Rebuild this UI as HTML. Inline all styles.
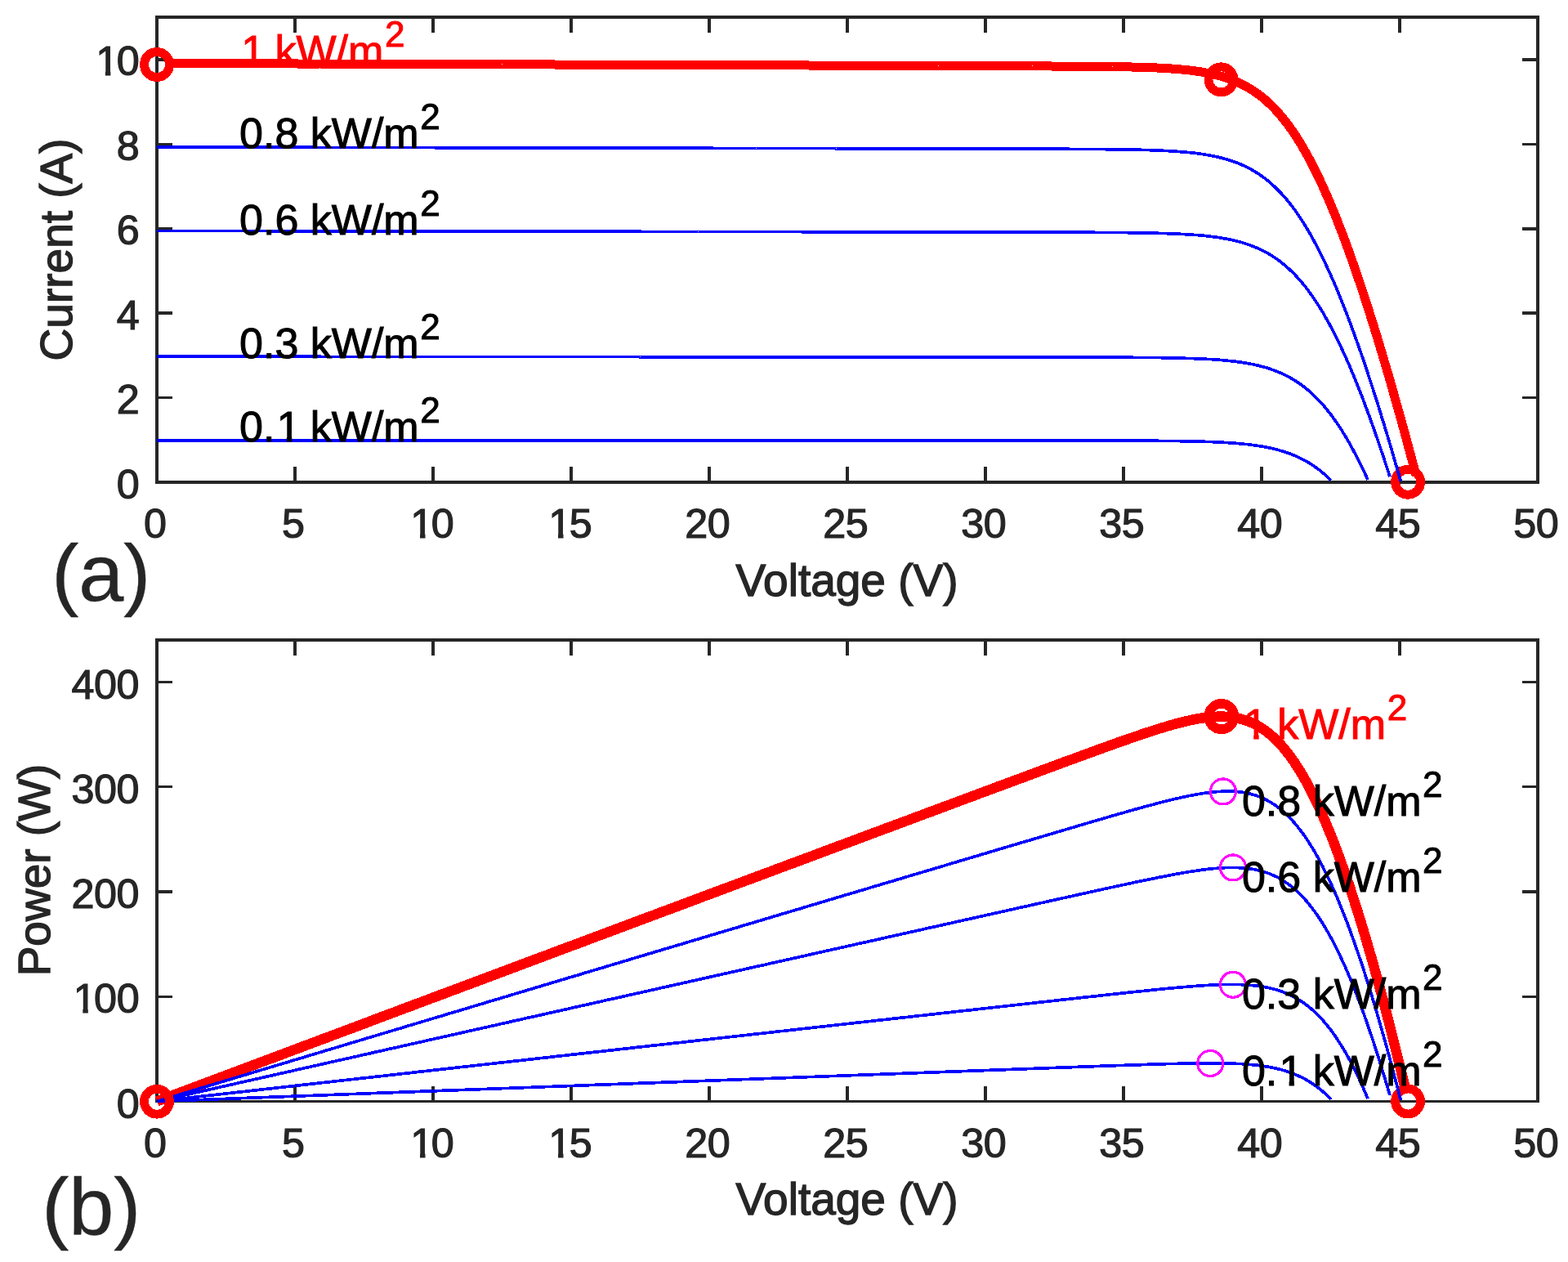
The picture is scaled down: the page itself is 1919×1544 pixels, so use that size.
<!DOCTYPE html>
<html lang="en">
<head>
<meta charset="utf-8">
<title>PV module I-V and P-V characteristics</title>
<style>html,body{margin:0;padding:0;background:#fff;}body{width:1919px;height:1544px;overflow:hidden;}svg{display:block;}</style>
</head>
<body>
<svg width="1919" height="1544" viewBox="0 0 1919 1544" font-family="'Liberation Sans', Arial, Helvetica, sans-serif">
<rect width="1919" height="1544" fill="#fff"/>
<g id="plot-a">
<g stroke="#262626" stroke-width="4.0" fill="none" stroke-linecap="butt" shape-rendering="crispEdges">
<rect x="192.0" y="21.0" width="1690.0" height="569.0"/>
<path d="M361.0,590.0 v-19.0 M361.0,21.0 v19.0 M530.0,590.0 v-19.0 M530.0,21.0 v19.0 M699.0,590.0 v-19.0 M699.0,21.0 v19.0 M868.0,590.0 v-19.0 M868.0,21.0 v19.0 M1037.0,590.0 v-19.0 M1037.0,21.0 v19.0 M1206.0,590.0 v-19.0 M1206.0,21.0 v19.0 M1375.0,590.0 v-19.0 M1375.0,21.0 v19.0 M1544.0,590.0 v-19.0 M1544.0,21.0 v19.0 M1713.0,590.0 v-19.0 M1713.0,21.0 v19.0 "/>
<path d="M192.0,73 h19.0 M1882.0,73 h-19.0" stroke-width="4"/>
<path d="M192.0,176.5 h19.0 M1882.0,176.5 h-19.0" stroke-width="3"/>
<path d="M192.0,280 h19.0 M1882.0,280 h-19.0" stroke-width="4"/>
<path d="M192.0,383 h19.0 M1882.0,383 h-19.0" stroke-width="4"/>
<path d="M192.0,486.5 h19.0 M1882.0,486.5 h-19.0" stroke-width="3"/>
</g>
<path d="M208.9,77.5 L212.3,77.5 L215.7,77.5 L219.0,77.5 L222.4,77.5 L225.8,77.5 L229.2,77.5 L232.6,77.5 L235.9,77.5 L239.3,77.6 L242.7,77.6 L246.1,77.6 L249.5,77.6 L252.8,77.6 L256.2,77.6 L259.6,77.6 L263.0,77.6 L266.4,77.6 L269.7,77.7 L273.1,77.7 L276.5,77.7 L279.9,77.7 L283.3,77.7 L286.6,77.7 L290.0,77.7 L293.4,77.7 L296.8,77.7 L300.2,77.8 L303.5,77.8 L306.9,77.8 L310.3,77.8 L313.7,77.8 L317.1,77.8 L320.4,77.8 L323.8,77.8 L327.2,77.8 L330.6,77.8 L334.0,77.9 L337.3,77.9 L340.7,77.9 L344.1,77.9 L347.5,77.9 L350.9,77.9 L354.2,77.9 L357.6,77.9 L361.0,77.9 L364.4,78.0 L367.8,78.0 L371.1,78.0 L374.5,78.0 L377.9,78.0 L381.3,78.0 L384.7,78.0 L388.0,78.0 L391.4,78.0 L394.8,78.1 L398.2,78.1 L401.6,78.1 L404.9,78.1 L408.3,78.1 L411.7,78.1 L415.1,78.1 L418.5,78.1 L421.8,78.1 L425.2,78.1 L428.6,78.2 L432.0,78.2 L435.4,78.2 L438.7,78.2 L442.1,78.2 L445.5,78.2 L448.9,78.2 L452.3,78.2 L455.6,78.2 L459.0,78.3 L462.4,78.3 L465.8,78.3 L469.2,78.3 L472.5,78.3 L475.9,78.3 L479.3,78.3 L482.7,78.3 L486.1,78.3 L489.4,78.4 L492.8,78.4 L496.2,78.4 L499.6,78.4 L503.0,78.4 L506.3,78.4 L509.7,78.4 L513.1,78.4 L516.5,78.4 L519.9,78.5 L523.2,78.5 L526.6,78.5 L530.0,78.5 L533.4,78.5 L536.8,78.5 L540.1,78.5 L543.5,78.5 L546.9,78.5 L550.3,78.5 L553.7,78.6 L557.0,78.6 L560.4,78.6 L563.8,78.6 L567.2,78.6 L570.6,78.6 L573.9,78.6 L577.3,78.6 L580.7,78.6 L584.1,78.7 L587.5,78.7 L590.8,78.7 L594.2,78.7 L597.6,78.7 L601.0,78.7 L604.4,78.7 L607.7,78.7 L611.1,78.7 L614.5,78.8 L617.9,78.8 L621.3,78.8 L624.6,78.8 L628.0,78.8 L631.4,78.8 L634.8,78.8 L638.2,78.8 L641.5,78.8 L644.9,78.9 L648.3,78.9 L651.7,78.9 L655.1,78.9 L658.4,78.9 L661.8,78.9 L665.2,78.9 L668.6,78.9 L672.0,78.9 L675.3,78.9 L678.7,79.0 L682.1,79.0 L685.5,79.0 L688.9,79.0 L692.2,79.0 L695.6,79.0 L699.0,79.0 L702.4,79.0 L705.8,79.0 L709.1,79.1 L712.5,79.1 L715.9,79.1 L719.3,79.1 L722.7,79.1 L726.0,79.1 L729.4,79.1 L732.8,79.1 L736.2,79.1 L739.6,79.2 L742.9,79.2 L746.3,79.2 L749.7,79.2 L753.1,79.2 L756.5,79.2 L759.8,79.2 L763.2,79.2 L766.6,79.2 L770.0,79.2 L773.4,79.3 L776.7,79.3 L780.1,79.3 L783.5,79.3 L786.9,79.3 L790.3,79.3 L793.6,79.3 L797.0,79.3 L800.4,79.3 L803.8,79.4 L807.2,79.4 L810.5,79.4 L813.9,79.4 L817.3,79.4 L820.7,79.4 L824.1,79.4 L827.4,79.4 L830.8,79.4 L834.2,79.5 L837.6,79.5 L841.0,79.5 L844.3,79.5 L847.7,79.5 L851.1,79.5 L854.5,79.5 L857.9,79.5 L861.2,79.5 L864.6,79.6 L868.0,79.6 L871.4,79.6 L874.8,79.6 L878.1,79.6 L881.5,79.6 L884.9,79.6 L888.3,79.6 L891.7,79.6 L895.0,79.6 L898.4,79.7 L901.8,79.7 L905.2,79.7 L908.6,79.7 L911.9,79.7 L915.3,79.7 L918.7,79.7 L922.1,79.7 L925.5,79.7 L928.8,79.8 L932.2,79.8 L935.6,79.8 L939.0,79.8 L942.4,79.8 L945.7,79.8 L949.1,79.8 L952.5,79.8 L955.9,79.8 L959.3,79.9 L962.6,79.9 L966.0,79.9 L969.4,79.9 L972.8,79.9 L976.2,79.9 L979.5,79.9 L982.9,79.9 L986.3,79.9 L989.7,80.0 L993.1,80.0 L996.4,80.0 L999.8,80.0 L1003.2,80.0 L1006.6,80.0 L1010.0,80.0 L1013.3,80.0 L1016.7,80.0 L1020.1,80.0 L1023.5,80.1 L1026.9,80.1 L1030.2,80.1 L1033.6,80.1 L1037.0,80.1 L1040.4,80.1 L1043.8,80.1 L1047.1,80.1 L1050.5,80.1 L1053.9,80.2 L1057.3,80.2 L1060.7,80.2 L1064.0,80.2 L1067.4,80.2 L1070.8,80.2 L1074.2,80.2 L1077.6,80.2 L1080.9,80.2 L1084.3,80.3 L1087.7,80.3 L1091.1,80.3 L1094.5,80.3 L1097.8,80.3 L1101.2,80.3 L1104.6,80.3 L1108.0,80.3 L1111.4,80.3 L1114.7,80.4 L1118.1,80.4 L1121.5,80.4 L1124.9,80.4 L1128.3,80.4 L1131.6,80.4 L1135.0,80.4 L1138.4,80.4 L1141.8,80.4 L1145.2,80.4 L1148.5,80.5 L1151.9,80.5 L1155.3,80.5 L1158.7,80.5 L1162.1,80.5 L1165.4,80.5 L1168.8,80.5 L1172.2,80.5 L1175.6,80.5 L1179.0,80.6 L1182.3,80.6 L1185.7,80.6 L1189.1,80.6 L1192.5,80.6 L1195.9,80.6 L1199.2,80.6 L1202.6,80.6 L1206.0,80.6 L1209.4,80.7 L1212.8,80.7 L1216.1,80.7 L1219.5,80.7 L1222.9,80.7 L1226.3,80.7 L1229.7,80.7 L1233.0,80.7 L1236.4,80.8 L1239.8,80.8 L1243.2,80.8 L1246.6,80.8 L1249.9,80.8 L1253.3,80.8 L1256.7,80.8 L1260.1,80.8 L1263.5,80.9 L1266.8,80.9 L1270.2,80.9 L1273.6,80.9 L1277.0,80.9 L1280.4,80.9 L1283.7,80.9 L1287.1,81.0 L1290.5,81.0 L1293.9,81.0 L1297.3,81.0 L1300.6,81.0 L1304.0,81.1 L1307.4,81.1 L1310.8,81.1 L1314.2,81.1 L1317.5,81.1 L1320.9,81.2 L1324.3,81.2 L1327.7,81.2 L1331.1,81.2 L1334.4,81.3 L1337.8,81.3 L1341.2,81.3 L1344.6,81.4 L1348.0,81.4 L1351.3,81.4 L1354.7,81.5 L1358.1,81.5 L1361.5,81.6 L1364.9,81.6 L1368.2,81.7 L1371.6,81.7 L1375.0,81.8 L1378.4,81.8 L1381.8,81.9 L1385.1,82.0 L1388.5,82.1 L1391.9,82.2 L1395.3,82.2 L1398.7,82.3 L1402.0,82.5 L1405.4,82.6 L1408.8,82.7 L1412.2,82.8 L1415.6,83.0 L1418.9,83.1 L1422.3,83.3 L1425.7,83.5 L1429.1,83.7 L1432.5,83.9 L1435.8,84.2 L1439.2,84.4 L1442.6,84.7 L1446.0,85.0 L1449.4,85.3 L1452.7,85.7 L1456.1,86.0 L1459.5,86.5 L1462.9,86.9 L1466.3,87.4 L1469.6,87.9 L1473.0,88.5 L1476.4,89.1 L1479.8,89.8 L1483.2,90.5 L1486.5,91.3 L1489.9,92.1 L1493.3,93.0 L1496.7,94.0 L1500.1,95.0 L1503.4,96.2 L1506.8,97.4 L1510.2,98.7 L1513.6,100.1 L1517.0,101.6 L1520.3,103.3 L1523.7,105.0 L1527.1,106.9 L1530.5,108.9 L1533.9,111.1 L1537.2,113.4 L1540.6,115.8 L1544.0,118.4 L1547.4,121.2 L1550.8,124.1 L1554.1,127.3 L1557.5,130.6 L1560.9,134.1 L1564.3,137.8 L1567.7,141.7 L1571.0,145.8 L1574.4,150.1 L1577.8,154.7 L1581.2,159.4 L1584.6,164.4 L1587.9,169.6 L1591.3,175.1 L1594.7,180.8 L1598.1,186.7 L1601.5,192.8 L1604.8,199.1 L1608.2,205.7 L1611.6,212.6 L1615.0,219.6 L1618.4,226.9 L1621.7,234.4 L1625.1,242.1 L1628.5,250.0 L1631.9,258.2 L1635.3,266.5 L1638.6,275.1 L1642.0,283.8 L1645.4,292.8 L1648.8,302.0 L1652.2,311.3 L1655.5,320.9 L1658.9,330.6 L1662.3,340.5 L1665.7,350.6 L1669.1,360.8 L1672.4,371.2 L1675.8,381.8 L1679.2,392.5 L1682.6,403.4 L1686.0,414.4 L1689.3,425.6 L1692.7,436.9 L1696.1,448.3 L1699.5,459.9 L1702.9,471.6 L1706.2,483.5 L1709.6,495.4 L1713.0,507.5 L1716.4,519.7 L1719.8,532.0 L1723.1,544.4 L1726.5,556.9 L1729.9,569.5 L1733.3,582.2" fill="none" stroke="#ff0000" stroke-width="11.0" stroke-linejoin="round" shape-rendering="crispEdges"/>
<circle cx="192.0" cy="79.0" r="15.5" fill="none" stroke="#ff0000" stroke-width="10.8" shape-rendering="crispEdges"/>
<circle cx="1494.5" cy="97.3" r="15.5" fill="none" stroke="#ff0000" stroke-width="10.8" shape-rendering="crispEdges"/>
<circle cx="1723.1" cy="589.8" r="15.5" fill="none" stroke="#ff0000" stroke-width="10.8" shape-rendering="crispEdges"/>
<path d="M192.0,180.0 L195.4,180.0 L198.8,180.0 L202.1,180.0 L205.5,180.0 L208.9,180.0 L212.3,180.0 L215.7,180.0 L219.0,180.0 L222.4,180.0 L225.8,180.0 L229.2,180.0 L232.6,180.0 L235.9,180.0 L239.3,180.1 L242.7,180.1 L246.1,180.1 L249.5,180.1 L252.8,180.1 L256.2,180.1 L259.6,180.1 L263.0,180.1 L266.4,180.1 L269.7,180.1 L273.1,180.1 L276.5,180.1 L279.9,180.1 L283.3,180.1 L286.6,180.1 L290.0,180.2 L293.4,180.2 L296.8,180.2 L300.2,180.2 L303.5,180.2 L306.9,180.2 L310.3,180.2 L313.7,180.2 L317.1,180.2 L320.4,180.2 L323.8,180.2 L327.2,180.2 L330.6,180.2 L334.0,180.2 L337.3,180.3 L340.7,180.3 L344.1,180.3 L347.5,180.3 L350.9,180.3 L354.2,180.3 L357.6,180.3 L361.0,180.3 L364.4,180.3 L367.8,180.3 L371.1,180.3 L374.5,180.3 L377.9,180.3 L381.3,180.3 L384.7,180.3 L388.0,180.4 L391.4,180.4 L394.8,180.4 L398.2,180.4 L401.6,180.4 L404.9,180.4 L408.3,180.4 L411.7,180.4 L415.1,180.4 L418.5,180.4 L421.8,180.4 L425.2,180.4 L428.6,180.4 L432.0,180.4 L435.4,180.5 L438.7,180.5 L442.1,180.5 L445.5,180.5 L448.9,180.5 L452.3,180.5 L455.6,180.5 L459.0,180.5 L462.4,180.5 L465.8,180.5 L469.2,180.5 L472.5,180.5 L475.9,180.5 L479.3,180.5 L482.7,180.6 L486.1,180.6 L489.4,180.6 L492.8,180.6 L496.2,180.6 L499.6,180.6 L503.0,180.6 L506.3,180.6 L509.7,180.6 L513.1,180.6 L516.5,180.6 L519.9,180.6 L523.2,180.6 L526.6,180.6 L530.0,180.6 L533.4,180.7 L536.8,180.7 L540.1,180.7 L543.5,180.7 L546.9,180.7 L550.3,180.7 L553.7,180.7 L557.0,180.7 L560.4,180.7 L563.8,180.7 L567.2,180.7 L570.6,180.7 L573.9,180.7 L577.3,180.7 L580.7,180.8 L584.1,180.8 L587.5,180.8 L590.8,180.8 L594.2,180.8 L597.6,180.8 L601.0,180.8 L604.4,180.8 L607.7,180.8 L611.1,180.8 L614.5,180.8 L617.9,180.8 L621.3,180.8 L624.6,180.8 L628.0,180.8 L631.4,180.9 L634.8,180.9 L638.2,180.9 L641.5,180.9 L644.9,180.9 L648.3,180.9 L651.7,180.9 L655.1,180.9 L658.4,180.9 L661.8,180.9 L665.2,180.9 L668.6,180.9 L672.0,180.9 L675.3,180.9 L678.7,181.0 L682.1,181.0 L685.5,181.0 L688.9,181.0 L692.2,181.0 L695.6,181.0 L699.0,181.0 L702.4,181.0 L705.8,181.0 L709.1,181.0 L712.5,181.0 L715.9,181.0 L719.3,181.0 L722.7,181.0 L726.0,181.0 L729.4,181.1 L732.8,181.1 L736.2,181.1 L739.6,181.1 L742.9,181.1 L746.3,181.1 L749.7,181.1 L753.1,181.1 L756.5,181.1 L759.8,181.1 L763.2,181.1 L766.6,181.1 L770.0,181.1 L773.4,181.1 L776.7,181.2 L780.1,181.2 L783.5,181.2 L786.9,181.2 L790.3,181.2 L793.6,181.2 L797.0,181.2 L800.4,181.2 L803.8,181.2 L807.2,181.2 L810.5,181.2 L813.9,181.2 L817.3,181.2 L820.7,181.2 L824.1,181.2 L827.4,181.3 L830.8,181.3 L834.2,181.3 L837.6,181.3 L841.0,181.3 L844.3,181.3 L847.7,181.3 L851.1,181.3 L854.5,181.3 L857.9,181.3 L861.2,181.3 L864.6,181.3 L868.0,181.3 L871.4,181.3 L874.8,181.4 L878.1,181.4 L881.5,181.4 L884.9,181.4 L888.3,181.4 L891.7,181.4 L895.0,181.4 L898.4,181.4 L901.8,181.4 L905.2,181.4 L908.6,181.4 L911.9,181.4 L915.3,181.4 L918.7,181.4 L922.1,181.4 L925.5,181.5 L928.8,181.5 L932.2,181.5 L935.6,181.5 L939.0,181.5 L942.4,181.5 L945.7,181.5 L949.1,181.5 L952.5,181.5 L955.9,181.5 L959.3,181.5 L962.6,181.5 L966.0,181.5 L969.4,181.5 L972.8,181.6 L976.2,181.6 L979.5,181.6 L982.9,181.6 L986.3,181.6 L989.7,181.6 L993.1,181.6 L996.4,181.6 L999.8,181.6 L1003.2,181.6 L1006.6,181.6 L1010.0,181.6 L1013.3,181.6 L1016.7,181.6 L1020.1,181.6 L1023.5,181.7 L1026.9,181.7 L1030.2,181.7 L1033.6,181.7 L1037.0,181.7 L1040.4,181.7 L1043.8,181.7 L1047.1,181.7 L1050.5,181.7 L1053.9,181.7 L1057.3,181.7 L1060.7,181.7 L1064.0,181.7 L1067.4,181.7 L1070.8,181.8 L1074.2,181.8 L1077.6,181.8 L1080.9,181.8 L1084.3,181.8 L1087.7,181.8 L1091.1,181.8 L1094.5,181.8 L1097.8,181.8 L1101.2,181.8 L1104.6,181.8 L1108.0,181.8 L1111.4,181.8 L1114.7,181.8 L1118.1,181.9 L1121.5,181.9 L1124.9,181.9 L1128.3,181.9 L1131.6,181.9 L1135.0,181.9 L1138.4,181.9 L1141.8,181.9 L1145.2,181.9 L1148.5,181.9 L1151.9,181.9 L1155.3,181.9 L1158.7,181.9 L1162.1,181.9 L1165.4,181.9 L1168.8,182.0 L1172.2,182.0 L1175.6,182.0 L1179.0,182.0 L1182.3,182.0 L1185.7,182.0 L1189.1,182.0 L1192.5,182.0 L1195.9,182.0 L1199.2,182.0 L1202.6,182.0 L1206.0,182.0 L1209.4,182.0 L1212.8,182.1 L1216.1,182.1 L1219.5,182.1 L1222.9,182.1 L1226.3,182.1 L1229.7,182.1 L1233.0,182.1 L1236.4,182.1 L1239.8,182.1 L1243.2,182.1 L1246.6,182.1 L1249.9,182.1 L1253.3,182.2 L1256.7,182.2 L1260.1,182.2 L1263.5,182.2 L1266.8,182.2 L1270.2,182.2 L1273.6,182.2 L1277.0,182.2 L1280.4,182.2 L1283.7,182.2 L1287.1,182.3 L1290.5,182.3 L1293.9,182.3 L1297.3,182.3 L1300.6,182.3 L1304.0,182.3 L1307.4,182.3 L1310.8,182.4 L1314.2,182.4 L1317.5,182.4 L1320.9,182.4 L1324.3,182.4 L1327.7,182.4 L1331.1,182.5 L1334.4,182.5 L1337.8,182.5 L1341.2,182.5 L1344.6,182.6 L1348.0,182.6 L1351.3,182.6 L1354.7,182.7 L1358.1,182.7 L1361.5,182.7 L1364.9,182.8 L1368.2,182.8 L1371.6,182.9 L1375.0,182.9 L1378.4,183.0 L1381.8,183.0 L1385.1,183.1 L1388.5,183.2 L1391.9,183.3 L1395.3,183.3 L1398.7,183.4 L1402.0,183.5 L1405.4,183.6 L1408.8,183.7 L1412.2,183.9 L1415.6,184.0 L1418.9,184.1 L1422.3,184.3 L1425.7,184.4 L1429.1,184.6 L1432.5,184.8 L1435.8,185.0 L1439.2,185.2 L1442.6,185.5 L1446.0,185.8 L1449.4,186.0 L1452.7,186.3 L1456.1,186.7 L1459.5,187.1 L1462.9,187.4 L1466.3,187.9 L1469.6,188.3 L1473.0,188.8 L1476.4,189.4 L1479.8,190.0 L1483.2,190.6 L1486.5,191.3 L1489.9,192.0 L1493.3,192.8 L1496.7,193.7 L1500.1,194.6 L1503.4,195.6 L1506.8,196.7 L1510.2,197.8 L1513.6,199.1 L1517.0,200.4 L1520.3,201.9 L1523.7,203.4 L1527.1,205.1 L1530.5,206.9 L1533.9,208.8 L1537.2,210.8 L1540.6,213.0 L1544.0,215.3 L1547.4,217.8 L1550.8,220.4 L1554.1,223.2 L1557.5,226.2 L1560.9,229.3 L1564.3,232.7 L1567.7,236.2 L1571.0,239.9 L1574.4,243.8 L1577.8,248.0 L1581.2,252.3 L1584.6,256.8 L1587.9,261.6 L1591.3,266.6 L1594.7,271.8 L1598.1,277.2 L1601.5,282.9 L1604.8,288.8 L1608.2,294.9 L1611.6,301.3 L1615.0,307.8 L1618.4,314.6 L1621.7,321.6 L1625.1,328.9 L1628.5,336.4 L1631.9,344.0 L1635.3,351.9 L1638.6,360.0 L1642.0,368.4 L1645.4,376.9 L1648.8,385.6 L1652.2,394.5 L1655.5,403.6 L1658.9,413.0 L1662.3,422.4 L1665.7,432.1 L1669.1,442.0 L1672.4,452.0 L1675.8,462.2 L1679.2,472.5 L1682.6,483.1 L1686.0,493.7 L1689.3,504.6 L1692.7,515.5 L1696.1,526.7 L1699.5,537.9 L1702.9,549.3 L1706.2,560.8 L1709.6,572.5 L1713.0,584.3 L1714.3,588.7" fill="none" stroke="#0000ff" stroke-width="3.7" stroke-linejoin="round" shape-rendering="crispEdges"/>
<path d="M192.0,282.4 L195.4,282.4 L198.8,282.4 L202.1,282.5 L205.5,282.5 L208.9,282.5 L212.3,282.5 L215.7,282.5 L219.0,282.5 L222.4,282.5 L225.8,282.5 L229.2,282.5 L232.6,282.5 L235.9,282.5 L239.3,282.5 L242.7,282.5 L246.1,282.5 L249.5,282.5 L252.8,282.5 L256.2,282.5 L259.6,282.5 L263.0,282.5 L266.4,282.6 L269.7,282.6 L273.1,282.6 L276.5,282.6 L279.9,282.6 L283.3,282.6 L286.6,282.6 L290.0,282.6 L293.4,282.6 L296.8,282.6 L300.2,282.6 L303.5,282.6 L306.9,282.6 L310.3,282.6 L313.7,282.6 L317.1,282.6 L320.4,282.6 L323.8,282.6 L327.2,282.6 L330.6,282.7 L334.0,282.7 L337.3,282.7 L340.7,282.7 L344.1,282.7 L347.5,282.7 L350.9,282.7 L354.2,282.7 L357.6,282.7 L361.0,282.7 L364.4,282.7 L367.8,282.7 L371.1,282.7 L374.5,282.7 L377.9,282.7 L381.3,282.7 L384.7,282.7 L388.0,282.7 L391.4,282.7 L394.8,282.7 L398.2,282.8 L401.6,282.8 L404.9,282.8 L408.3,282.8 L411.7,282.8 L415.1,282.8 L418.5,282.8 L421.8,282.8 L425.2,282.8 L428.6,282.8 L432.0,282.8 L435.4,282.8 L438.7,282.8 L442.1,282.8 L445.5,282.8 L448.9,282.8 L452.3,282.8 L455.6,282.8 L459.0,282.8 L462.4,282.9 L465.8,282.9 L469.2,282.9 L472.5,282.9 L475.9,282.9 L479.3,282.9 L482.7,282.9 L486.1,282.9 L489.4,282.9 L492.8,282.9 L496.2,282.9 L499.6,282.9 L503.0,282.9 L506.3,282.9 L509.7,282.9 L513.1,282.9 L516.5,282.9 L519.9,282.9 L523.2,282.9 L526.6,283.0 L530.0,283.0 L533.4,283.0 L536.8,283.0 L540.1,283.0 L543.5,283.0 L546.9,283.0 L550.3,283.0 L553.7,283.0 L557.0,283.0 L560.4,283.0 L563.8,283.0 L567.2,283.0 L570.6,283.0 L573.9,283.0 L577.3,283.0 L580.7,283.0 L584.1,283.0 L587.5,283.0 L590.8,283.0 L594.2,283.1 L597.6,283.1 L601.0,283.1 L604.4,283.1 L607.7,283.1 L611.1,283.1 L614.5,283.1 L617.9,283.1 L621.3,283.1 L624.6,283.1 L628.0,283.1 L631.4,283.1 L634.8,283.1 L638.2,283.1 L641.5,283.1 L644.9,283.1 L648.3,283.1 L651.7,283.1 L655.1,283.1 L658.4,283.2 L661.8,283.2 L665.2,283.2 L668.6,283.2 L672.0,283.2 L675.3,283.2 L678.7,283.2 L682.1,283.2 L685.5,283.2 L688.9,283.2 L692.2,283.2 L695.6,283.2 L699.0,283.2 L702.4,283.2 L705.8,283.2 L709.1,283.2 L712.5,283.2 L715.9,283.2 L719.3,283.2 L722.7,283.3 L726.0,283.3 L729.4,283.3 L732.8,283.3 L736.2,283.3 L739.6,283.3 L742.9,283.3 L746.3,283.3 L749.7,283.3 L753.1,283.3 L756.5,283.3 L759.8,283.3 L763.2,283.3 L766.6,283.3 L770.0,283.3 L773.4,283.3 L776.7,283.3 L780.1,283.3 L783.5,283.3 L786.9,283.4 L790.3,283.4 L793.6,283.4 L797.0,283.4 L800.4,283.4 L803.8,283.4 L807.2,283.4 L810.5,283.4 L813.9,283.4 L817.3,283.4 L820.7,283.4 L824.1,283.4 L827.4,283.4 L830.8,283.4 L834.2,283.4 L837.6,283.4 L841.0,283.4 L844.3,283.4 L847.7,283.4 L851.1,283.4 L854.5,283.5 L857.9,283.5 L861.2,283.5 L864.6,283.5 L868.0,283.5 L871.4,283.5 L874.8,283.5 L878.1,283.5 L881.5,283.5 L884.9,283.5 L888.3,283.5 L891.7,283.5 L895.0,283.5 L898.4,283.5 L901.8,283.5 L905.2,283.5 L908.6,283.5 L911.9,283.5 L915.3,283.5 L918.7,283.6 L922.1,283.6 L925.5,283.6 L928.8,283.6 L932.2,283.6 L935.6,283.6 L939.0,283.6 L942.4,283.6 L945.7,283.6 L949.1,283.6 L952.5,283.6 L955.9,283.6 L959.3,283.6 L962.6,283.6 L966.0,283.6 L969.4,283.6 L972.8,283.6 L976.2,283.6 L979.5,283.6 L982.9,283.7 L986.3,283.7 L989.7,283.7 L993.1,283.7 L996.4,283.7 L999.8,283.7 L1003.2,283.7 L1006.6,283.7 L1010.0,283.7 L1013.3,283.7 L1016.7,283.7 L1020.1,283.7 L1023.5,283.7 L1026.9,283.7 L1030.2,283.7 L1033.6,283.7 L1037.0,283.7 L1040.4,283.7 L1043.8,283.7 L1047.1,283.7 L1050.5,283.8 L1053.9,283.8 L1057.3,283.8 L1060.7,283.8 L1064.0,283.8 L1067.4,283.8 L1070.8,283.8 L1074.2,283.8 L1077.6,283.8 L1080.9,283.8 L1084.3,283.8 L1087.7,283.8 L1091.1,283.8 L1094.5,283.8 L1097.8,283.8 L1101.2,283.8 L1104.6,283.8 L1108.0,283.8 L1111.4,283.8 L1114.7,283.9 L1118.1,283.9 L1121.5,283.9 L1124.9,283.9 L1128.3,283.9 L1131.6,283.9 L1135.0,283.9 L1138.4,283.9 L1141.8,283.9 L1145.2,283.9 L1148.5,283.9 L1151.9,283.9 L1155.3,283.9 L1158.7,283.9 L1162.1,283.9 L1165.4,283.9 L1168.8,283.9 L1172.2,283.9 L1175.6,283.9 L1179.0,284.0 L1182.3,284.0 L1185.7,284.0 L1189.1,284.0 L1192.5,284.0 L1195.9,284.0 L1199.2,284.0 L1202.6,284.0 L1206.0,284.0 L1209.4,284.0 L1212.8,284.0 L1216.1,284.0 L1219.5,284.0 L1222.9,284.0 L1226.3,284.0 L1229.7,284.0 L1233.0,284.0 L1236.4,284.1 L1239.8,284.1 L1243.2,284.1 L1246.6,284.1 L1249.9,284.1 L1253.3,284.1 L1256.7,284.1 L1260.1,284.1 L1263.5,284.1 L1266.8,284.1 L1270.2,284.1 L1273.6,284.1 L1277.0,284.1 L1280.4,284.1 L1283.7,284.1 L1287.1,284.2 L1290.5,284.2 L1293.9,284.2 L1297.3,284.2 L1300.6,284.2 L1304.0,284.2 L1307.4,284.2 L1310.8,284.2 L1314.2,284.2 L1317.5,284.2 L1320.9,284.3 L1324.3,284.3 L1327.7,284.3 L1331.1,284.3 L1334.4,284.3 L1337.8,284.3 L1341.2,284.4 L1344.6,284.4 L1348.0,284.4 L1351.3,284.4 L1354.7,284.4 L1358.1,284.5 L1361.5,284.5 L1364.9,284.5 L1368.2,284.5 L1371.6,284.6 L1375.0,284.6 L1378.4,284.6 L1381.8,284.7 L1385.1,284.7 L1388.5,284.8 L1391.9,284.8 L1395.3,284.9 L1398.7,284.9 L1402.0,285.0 L1405.4,285.0 L1408.8,285.1 L1412.2,285.2 L1415.6,285.3 L1418.9,285.4 L1422.3,285.5 L1425.7,285.6 L1429.1,285.7 L1432.5,285.8 L1435.8,285.9 L1439.2,286.1 L1442.6,286.2 L1446.0,286.4 L1449.4,286.6 L1452.7,286.8 L1456.1,287.0 L1459.5,287.2 L1462.9,287.5 L1466.3,287.7 L1469.6,288.0 L1473.0,288.3 L1476.4,288.7 L1479.8,289.1 L1483.2,289.5 L1486.5,289.9 L1489.9,290.4 L1493.3,290.9 L1496.7,291.5 L1500.1,292.1 L1503.4,292.7 L1506.8,293.4 L1510.2,294.2 L1513.6,295.0 L1517.0,295.9 L1520.3,296.8 L1523.7,297.9 L1527.1,299.0 L1530.5,300.2 L1533.9,301.5 L1537.2,302.8 L1540.6,304.3 L1544.0,305.9 L1547.4,307.6 L1550.8,309.5 L1554.1,311.4 L1557.5,313.5 L1560.9,315.7 L1564.3,318.1 L1567.7,320.7 L1571.0,323.4 L1574.4,326.2 L1577.8,329.3 L1581.2,332.5 L1584.6,335.9 L1587.9,339.5 L1591.3,343.3 L1594.7,347.3 L1598.1,351.5 L1601.5,355.9 L1604.8,360.6 L1608.2,365.4 L1611.6,370.5 L1615.0,375.8 L1618.4,381.3 L1621.7,387.1 L1625.1,393.1 L1628.5,399.3 L1631.9,405.7 L1635.3,412.4 L1638.6,419.3 L1642.0,426.4 L1645.4,433.7 L1648.8,441.3 L1652.2,449.0 L1655.5,457.0 L1658.9,465.2 L1662.3,473.6 L1665.7,482.2 L1669.1,491.0 L1672.4,500.0 L1675.8,509.2 L1679.2,518.6 L1682.6,528.2 L1686.0,537.9 L1689.3,547.8 L1692.7,557.9 L1696.1,568.2 L1699.5,578.6 L1701.0,583.3" fill="none" stroke="#0000ff" stroke-width="3.7" stroke-linejoin="round" shape-rendering="crispEdges"/>
<path d="M192.0,436.2 L195.4,436.2 L198.8,436.2 L202.1,436.2 L205.5,436.2 L208.9,436.2 L212.3,436.2 L215.7,436.2 L219.0,436.2 L222.4,436.2 L225.8,436.2 L229.2,436.2 L232.6,436.2 L235.9,436.2 L239.3,436.2 L242.7,436.2 L246.1,436.2 L249.5,436.2 L252.8,436.2 L256.2,436.2 L259.6,436.2 L263.0,436.3 L266.4,436.3 L269.7,436.3 L273.1,436.3 L276.5,436.3 L279.9,436.3 L283.3,436.3 L286.6,436.3 L290.0,436.3 L293.4,436.3 L296.8,436.3 L300.2,436.3 L303.5,436.3 L306.9,436.3 L310.3,436.3 L313.7,436.3 L317.1,436.3 L320.4,436.3 L323.8,436.3 L327.2,436.3 L330.6,436.3 L334.0,436.3 L337.3,436.3 L340.7,436.3 L344.1,436.3 L347.5,436.3 L350.9,436.3 L354.2,436.3 L357.6,436.3 L361.0,436.3 L364.4,436.3 L367.8,436.3 L371.1,436.3 L374.5,436.3 L377.9,436.3 L381.3,436.3 L384.7,436.3 L388.0,436.3 L391.4,436.3 L394.8,436.4 L398.2,436.4 L401.6,436.4 L404.9,436.4 L408.3,436.4 L411.7,436.4 L415.1,436.4 L418.5,436.4 L421.8,436.4 L425.2,436.4 L428.6,436.4 L432.0,436.4 L435.4,436.4 L438.7,436.4 L442.1,436.4 L445.5,436.4 L448.9,436.4 L452.3,436.4 L455.6,436.4 L459.0,436.4 L462.4,436.4 L465.8,436.4 L469.2,436.4 L472.5,436.4 L475.9,436.4 L479.3,436.4 L482.7,436.4 L486.1,436.4 L489.4,436.4 L492.8,436.4 L496.2,436.4 L499.6,436.4 L503.0,436.4 L506.3,436.4 L509.7,436.4 L513.1,436.4 L516.5,436.4 L519.9,436.4 L523.2,436.5 L526.6,436.5 L530.0,436.5 L533.4,436.5 L536.8,436.5 L540.1,436.5 L543.5,436.5 L546.9,436.5 L550.3,436.5 L553.7,436.5 L557.0,436.5 L560.4,436.5 L563.8,436.5 L567.2,436.5 L570.6,436.5 L573.9,436.5 L577.3,436.5 L580.7,436.5 L584.1,436.5 L587.5,436.5 L590.8,436.5 L594.2,436.5 L597.6,436.5 L601.0,436.5 L604.4,436.5 L607.7,436.5 L611.1,436.5 L614.5,436.5 L617.9,436.5 L621.3,436.5 L624.6,436.5 L628.0,436.5 L631.4,436.5 L634.8,436.5 L638.2,436.5 L641.5,436.5 L644.9,436.5 L648.3,436.5 L651.7,436.5 L655.1,436.6 L658.4,436.6 L661.8,436.6 L665.2,436.6 L668.6,436.6 L672.0,436.6 L675.3,436.6 L678.7,436.6 L682.1,436.6 L685.5,436.6 L688.9,436.6 L692.2,436.6 L695.6,436.6 L699.0,436.6 L702.4,436.6 L705.8,436.6 L709.1,436.6 L712.5,436.6 L715.9,436.6 L719.3,436.6 L722.7,436.6 L726.0,436.6 L729.4,436.6 L732.8,436.6 L736.2,436.6 L739.6,436.6 L742.9,436.6 L746.3,436.6 L749.7,436.6 L753.1,436.6 L756.5,436.6 L759.8,436.6 L763.2,436.6 L766.6,436.6 L770.0,436.6 L773.4,436.6 L776.7,436.6 L780.1,436.6 L783.5,436.7 L786.9,436.7 L790.3,436.7 L793.6,436.7 L797.0,436.7 L800.4,436.7 L803.8,436.7 L807.2,436.7 L810.5,436.7 L813.9,436.7 L817.3,436.7 L820.7,436.7 L824.1,436.7 L827.4,436.7 L830.8,436.7 L834.2,436.7 L837.6,436.7 L841.0,436.7 L844.3,436.7 L847.7,436.7 L851.1,436.7 L854.5,436.7 L857.9,436.7 L861.2,436.7 L864.6,436.7 L868.0,436.7 L871.4,436.7 L874.8,436.7 L878.1,436.7 L881.5,436.7 L884.9,436.7 L888.3,436.7 L891.7,436.7 L895.0,436.7 L898.4,436.7 L901.8,436.7 L905.2,436.7 L908.6,436.7 L911.9,436.7 L915.3,436.8 L918.7,436.8 L922.1,436.8 L925.5,436.8 L928.8,436.8 L932.2,436.8 L935.6,436.8 L939.0,436.8 L942.4,436.8 L945.7,436.8 L949.1,436.8 L952.5,436.8 L955.9,436.8 L959.3,436.8 L962.6,436.8 L966.0,436.8 L969.4,436.8 L972.8,436.8 L976.2,436.8 L979.5,436.8 L982.9,436.8 L986.3,436.8 L989.7,436.8 L993.1,436.8 L996.4,436.8 L999.8,436.8 L1003.2,436.8 L1006.6,436.8 L1010.0,436.8 L1013.3,436.8 L1016.7,436.8 L1020.1,436.8 L1023.5,436.8 L1026.9,436.8 L1030.2,436.8 L1033.6,436.8 L1037.0,436.8 L1040.4,436.8 L1043.8,436.9 L1047.1,436.9 L1050.5,436.9 L1053.9,436.9 L1057.3,436.9 L1060.7,436.9 L1064.0,436.9 L1067.4,436.9 L1070.8,436.9 L1074.2,436.9 L1077.6,436.9 L1080.9,436.9 L1084.3,436.9 L1087.7,436.9 L1091.1,436.9 L1094.5,436.9 L1097.8,436.9 L1101.2,436.9 L1104.6,436.9 L1108.0,436.9 L1111.4,436.9 L1114.7,436.9 L1118.1,436.9 L1121.5,436.9 L1124.9,436.9 L1128.3,436.9 L1131.6,436.9 L1135.0,436.9 L1138.4,436.9 L1141.8,436.9 L1145.2,436.9 L1148.5,436.9 L1151.9,436.9 L1155.3,436.9 L1158.7,436.9 L1162.1,436.9 L1165.4,436.9 L1168.8,436.9 L1172.2,436.9 L1175.6,437.0 L1179.0,437.0 L1182.3,437.0 L1185.7,437.0 L1189.1,437.0 L1192.5,437.0 L1195.9,437.0 L1199.2,437.0 L1202.6,437.0 L1206.0,437.0 L1209.4,437.0 L1212.8,437.0 L1216.1,437.0 L1219.5,437.0 L1222.9,437.0 L1226.3,437.0 L1229.7,437.0 L1233.0,437.0 L1236.4,437.0 L1239.8,437.0 L1243.2,437.0 L1246.6,437.0 L1249.9,437.0 L1253.3,437.0 L1256.7,437.0 L1260.1,437.0 L1263.5,437.0 L1266.8,437.0 L1270.2,437.0 L1273.6,437.0 L1277.0,437.0 L1280.4,437.0 L1283.7,437.1 L1287.1,437.1 L1290.5,437.1 L1293.9,437.1 L1297.3,437.1 L1300.6,437.1 L1304.0,437.1 L1307.4,437.1 L1310.8,437.1 L1314.2,437.1 L1317.5,437.1 L1320.9,437.1 L1324.3,437.1 L1327.7,437.1 L1331.1,437.1 L1334.4,437.1 L1337.8,437.1 L1341.2,437.2 L1344.6,437.2 L1348.0,437.2 L1351.3,437.2 L1354.7,437.2 L1358.1,437.2 L1361.5,437.2 L1364.9,437.2 L1368.2,437.2 L1371.6,437.3 L1375.0,437.3 L1378.4,437.3 L1381.8,437.3 L1385.1,437.3 L1388.5,437.4 L1391.9,437.4 L1395.3,437.4 L1398.7,437.4 L1402.0,437.5 L1405.4,437.5 L1408.8,437.5 L1412.2,437.6 L1415.6,437.6 L1418.9,437.6 L1422.3,437.7 L1425.7,437.7 L1429.1,437.8 L1432.5,437.9 L1435.8,437.9 L1439.2,438.0 L1442.6,438.1 L1446.0,438.2 L1449.4,438.3 L1452.7,438.4 L1456.1,438.5 L1459.5,438.6 L1462.9,438.7 L1466.3,438.8 L1469.6,439.0 L1473.0,439.1 L1476.4,439.3 L1479.8,439.5 L1483.2,439.7 L1486.5,439.9 L1489.9,440.2 L1493.3,440.4 L1496.7,440.7 L1500.1,441.0 L1503.4,441.4 L1506.8,441.7 L1510.2,442.1 L1513.6,442.5 L1517.0,443.0 L1520.3,443.5 L1523.7,444.0 L1527.1,444.6 L1530.5,445.2 L1533.9,445.9 L1537.2,446.7 L1540.6,447.4 L1544.0,448.3 L1547.4,449.2 L1550.8,450.2 L1554.1,451.3 L1557.5,452.5 L1560.9,453.7 L1564.3,455.1 L1567.7,456.5 L1571.0,458.0 L1574.4,459.7 L1577.8,461.5 L1581.2,463.4 L1584.6,465.4 L1587.9,467.6 L1591.3,469.9 L1594.7,472.4 L1598.1,475.0 L1601.5,477.8 L1604.8,480.8 L1608.2,483.9 L1611.6,487.3 L1615.0,490.8 L1618.4,494.5 L1621.7,498.4 L1625.1,502.6 L1628.5,506.9 L1631.9,511.5 L1635.3,516.2 L1638.6,521.2 L1642.0,526.4 L1645.4,531.9 L1648.8,537.5 L1652.2,543.4 L1655.5,549.6 L1658.9,555.9 L1662.3,562.5 L1665.7,569.3 L1669.1,576.3 L1672.4,583.5 L1674.0,587.0" fill="none" stroke="#0000ff" stroke-width="3.7" stroke-linejoin="round" shape-rendering="crispEdges"/>
<path d="M192.0,538.7 L195.4,538.7 L198.8,538.7 L202.1,538.7 L205.5,538.7 L208.9,538.7 L212.3,538.7 L215.7,538.7 L219.0,538.7 L222.4,538.7 L225.8,538.7 L229.2,538.7 L232.6,538.7 L235.9,538.7 L239.3,538.7 L242.7,538.7 L246.1,538.7 L249.5,538.7 L252.8,538.7 L256.2,538.7 L259.6,538.7 L263.0,538.7 L266.4,538.7 L269.7,538.7 L273.1,538.7 L276.5,538.7 L279.9,538.7 L283.3,538.8 L286.6,538.8 L290.0,538.8 L293.4,538.8 L296.8,538.8 L300.2,538.8 L303.5,538.8 L306.9,538.8 L310.3,538.8 L313.7,538.8 L317.1,538.8 L320.4,538.8 L323.8,538.8 L327.2,538.8 L330.6,538.8 L334.0,538.8 L337.3,538.8 L340.7,538.8 L344.1,538.8 L347.5,538.8 L350.9,538.8 L354.2,538.8 L357.6,538.8 L361.0,538.8 L364.4,538.8 L367.8,538.8 L371.1,538.8 L374.5,538.8 L377.9,538.8 L381.3,538.8 L384.7,538.8 L388.0,538.8 L391.4,538.8 L394.8,538.8 L398.2,538.8 L401.6,538.8 L404.9,538.8 L408.3,538.8 L411.7,538.8 L415.1,538.8 L418.5,538.8 L421.8,538.8 L425.2,538.8 L428.6,538.8 L432.0,538.8 L435.4,538.8 L438.7,538.8 L442.1,538.8 L445.5,538.8 L448.9,538.8 L452.3,538.8 L455.6,538.8 L459.0,538.8 L462.4,538.8 L465.8,538.8 L469.2,538.8 L472.5,538.8 L475.9,538.8 L479.3,538.8 L482.7,538.8 L486.1,538.8 L489.4,538.8 L492.8,538.8 L496.2,538.8 L499.6,538.8 L503.0,538.8 L506.3,538.8 L509.7,538.8 L513.1,538.8 L516.5,538.8 L519.9,538.8 L523.2,538.8 L526.6,538.8 L530.0,538.8 L533.4,538.8 L536.8,538.8 L540.1,538.8 L543.5,538.8 L546.9,538.8 L550.3,538.8 L553.7,538.8 L557.0,538.8 L560.4,538.8 L563.8,538.8 L567.2,538.8 L570.6,538.8 L573.9,538.8 L577.3,538.8 L580.7,538.8 L584.1,538.8 L587.5,538.8 L590.8,538.8 L594.2,538.8 L597.6,538.8 L601.0,538.8 L604.4,538.8 L607.7,538.8 L611.1,538.8 L614.5,538.8 L617.9,538.8 L621.3,538.8 L624.6,538.8 L628.0,538.8 L631.4,538.8 L634.8,538.8 L638.2,538.8 L641.5,538.8 L644.9,538.8 L648.3,538.8 L651.7,538.8 L655.1,538.8 L658.4,538.8 L661.8,538.8 L665.2,538.8 L668.6,538.8 L672.0,538.9 L675.3,538.9 L678.7,538.9 L682.1,538.9 L685.5,538.9 L688.9,538.9 L692.2,538.9 L695.6,538.9 L699.0,538.9 L702.4,538.9 L705.8,538.9 L709.1,538.9 L712.5,538.9 L715.9,538.9 L719.3,538.9 L722.7,538.9 L726.0,538.9 L729.4,538.9 L732.8,538.9 L736.2,538.9 L739.6,538.9 L742.9,538.9 L746.3,538.9 L749.7,538.9 L753.1,538.9 L756.5,538.9 L759.8,538.9 L763.2,538.9 L766.6,538.9 L770.0,538.9 L773.4,538.9 L776.7,538.9 L780.1,538.9 L783.5,538.9 L786.9,538.9 L790.3,538.9 L793.6,538.9 L797.0,538.9 L800.4,538.9 L803.8,538.9 L807.2,538.9 L810.5,538.9 L813.9,538.9 L817.3,538.9 L820.7,538.9 L824.1,538.9 L827.4,538.9 L830.8,538.9 L834.2,538.9 L837.6,538.9 L841.0,538.9 L844.3,538.9 L847.7,538.9 L851.1,538.9 L854.5,538.9 L857.9,538.9 L861.2,538.9 L864.6,538.9 L868.0,538.9 L871.4,538.9 L874.8,538.9 L878.1,538.9 L881.5,538.9 L884.9,538.9 L888.3,538.9 L891.7,538.9 L895.0,538.9 L898.4,538.9 L901.8,538.9 L905.2,538.9 L908.6,538.9 L911.9,538.9 L915.3,538.9 L918.7,538.9 L922.1,538.9 L925.5,538.9 L928.8,538.9 L932.2,538.9 L935.6,538.9 L939.0,538.9 L942.4,538.9 L945.7,538.9 L949.1,538.9 L952.5,538.9 L955.9,538.9 L959.3,538.9 L962.6,538.9 L966.0,538.9 L969.4,538.9 L972.8,538.9 L976.2,538.9 L979.5,538.9 L982.9,538.9 L986.3,538.9 L989.7,538.9 L993.1,538.9 L996.4,538.9 L999.8,538.9 L1003.2,538.9 L1006.6,538.9 L1010.0,538.9 L1013.3,538.9 L1016.7,538.9 L1020.1,538.9 L1023.5,538.9 L1026.9,538.9 L1030.2,538.9 L1033.6,538.9 L1037.0,538.9 L1040.4,538.9 L1043.8,538.9 L1047.1,538.9 L1050.5,538.9 L1053.9,538.9 L1057.3,538.9 L1060.7,538.9 L1064.0,539.0 L1067.4,539.0 L1070.8,539.0 L1074.2,539.0 L1077.6,539.0 L1080.9,539.0 L1084.3,539.0 L1087.7,539.0 L1091.1,539.0 L1094.5,539.0 L1097.8,539.0 L1101.2,539.0 L1104.6,539.0 L1108.0,539.0 L1111.4,539.0 L1114.7,539.0 L1118.1,539.0 L1121.5,539.0 L1124.9,539.0 L1128.3,539.0 L1131.6,539.0 L1135.0,539.0 L1138.4,539.0 L1141.8,539.0 L1145.2,539.0 L1148.5,539.0 L1151.9,539.0 L1155.3,539.0 L1158.7,539.0 L1162.1,539.0 L1165.4,539.0 L1168.8,539.0 L1172.2,539.0 L1175.6,539.0 L1179.0,539.0 L1182.3,539.0 L1185.7,539.0 L1189.1,539.0 L1192.5,539.0 L1195.9,539.0 L1199.2,539.0 L1202.6,539.0 L1206.0,539.0 L1209.4,539.0 L1212.8,539.0 L1216.1,539.0 L1219.5,539.0 L1222.9,539.0 L1226.3,539.0 L1229.7,539.0 L1233.0,539.0 L1236.4,539.0 L1239.8,539.0 L1243.2,539.0 L1246.6,539.0 L1249.9,539.0 L1253.3,539.0 L1256.7,539.0 L1260.1,539.0 L1263.5,539.0 L1266.8,539.0 L1270.2,539.0 L1273.6,539.0 L1277.0,539.0 L1280.4,539.0 L1283.7,539.0 L1287.1,539.0 L1290.5,539.0 L1293.9,539.0 L1297.3,539.0 L1300.6,539.0 L1304.0,539.0 L1307.4,539.0 L1310.8,539.0 L1314.2,539.0 L1317.5,539.0 L1320.9,539.0 L1324.3,539.0 L1327.7,539.1 L1331.1,539.1 L1334.4,539.1 L1337.8,539.1 L1341.2,539.1 L1344.6,539.1 L1348.0,539.1 L1351.3,539.1 L1354.7,539.1 L1358.1,539.1 L1361.5,539.1 L1364.9,539.1 L1368.2,539.1 L1371.6,539.1 L1375.0,539.1 L1378.4,539.1 L1381.8,539.2 L1385.1,539.2 L1388.5,539.2 L1391.9,539.2 L1395.3,539.2 L1398.7,539.2 L1402.0,539.2 L1405.4,539.3 L1408.8,539.3 L1412.2,539.3 L1415.6,539.3 L1418.9,539.4 L1422.3,539.4 L1425.7,539.4 L1429.1,539.5 L1432.5,539.5 L1435.8,539.5 L1439.2,539.6 L1442.6,539.6 L1446.0,539.7 L1449.4,539.7 L1452.7,539.8 L1456.1,539.9 L1459.5,539.9 L1462.9,540.0 L1466.3,540.1 L1469.6,540.2 L1473.0,540.3 L1476.4,540.4 L1479.8,540.5 L1483.2,540.6 L1486.5,540.8 L1489.9,540.9 L1493.3,541.1 L1496.7,541.3 L1500.1,541.5 L1503.4,541.7 L1506.8,541.9 L1510.2,542.1 L1513.6,542.4 L1517.0,542.7 L1520.3,543.0 L1523.7,543.4 L1527.1,543.7 L1530.5,544.1 L1533.9,544.6 L1537.2,545.0 L1540.6,545.6 L1544.0,546.1 L1547.4,546.7 L1550.8,547.4 L1554.1,548.1 L1557.5,548.8 L1560.9,549.6 L1564.3,550.5 L1567.7,551.5 L1571.0,552.5 L1574.4,553.6 L1577.8,554.8 L1581.2,556.1 L1584.6,557.5 L1587.9,558.9 L1591.3,560.5 L1594.7,562.2 L1598.1,564.1 L1601.5,566.0 L1604.8,568.1 L1608.2,570.4 L1611.6,572.7 L1615.0,575.3 L1618.4,578.0 L1621.7,580.8 L1625.1,583.9 L1628.5,587.1 L1629.0,587.6" fill="none" stroke="#0000ff" stroke-width="3.7" stroke-linejoin="round" shape-rendering="crispEdges"/>
<g>
<text x="176.01" y="658.30" font-size="50.3" fill="#262626" stroke="#262626" stroke-width="1.2" letter-spacing="-0.45" xml:space="preserve">0</text>
<text x="345.01" y="658.30" font-size="50.3" fill="#262626" stroke="#262626" stroke-width="1.2" letter-spacing="-0.45" xml:space="preserve">5</text>
<clipPath id="nofoot1"><path clip-rule="evenodd" d="M480.25,587.88H615.75V683.45H480.25ZM503.99,652.74H514.01V661.50H503.99ZM520.46,652.74H530.08V661.50H520.46Z"/></clipPath><text x="500.25" y="658.30" font-size="50.3" fill="#262626" stroke="#262626" stroke-width="1.2" letter-spacing="-0.45" xml:space="preserve" dx="2.11 -2.11" clip-path="url(#nofoot1)">10</text>
<clipPath id="nofoot2"><path clip-rule="evenodd" d="M649.25,587.88H784.75V683.45H649.25ZM672.99,652.74H683.01V661.50H672.99ZM689.46,652.74H699.08V661.50H689.46Z"/></clipPath><text x="669.25" y="658.30" font-size="50.3" fill="#262626" stroke="#262626" stroke-width="1.2" letter-spacing="-0.45" xml:space="preserve" dx="2.11 -2.11" clip-path="url(#nofoot2)">15</text>
<text x="838.25" y="658.30" font-size="50.3" fill="#262626" stroke="#262626" stroke-width="1.2" letter-spacing="-0.45" xml:space="preserve">20</text>
<text x="1007.25" y="658.30" font-size="50.3" fill="#262626" stroke="#262626" stroke-width="1.2" letter-spacing="-0.45" xml:space="preserve">25</text>
<text x="1176.25" y="658.30" font-size="50.3" fill="#262626" stroke="#262626" stroke-width="1.2" letter-spacing="-0.45" xml:space="preserve">30</text>
<text x="1345.25" y="658.30" font-size="50.3" fill="#262626" stroke="#262626" stroke-width="1.2" letter-spacing="-0.45" xml:space="preserve">35</text>
<text x="1514.25" y="658.30" font-size="50.3" fill="#262626" stroke="#262626" stroke-width="1.2" letter-spacing="-0.45" xml:space="preserve">40</text>
<text x="1683.25" y="658.30" font-size="50.3" fill="#262626" stroke="#262626" stroke-width="1.2" letter-spacing="-0.45" xml:space="preserve">45</text>
<text x="1852.25" y="658.30" font-size="50.3" fill="#262626" stroke="#262626" stroke-width="1.2" letter-spacing="-0.45" xml:space="preserve">50</text>
<text x="142.63" y="609.50" font-size="50.3" fill="#262626" stroke="#262626" stroke-width="1.2" letter-spacing="-0.45" xml:space="preserve">0</text>
<text x="142.63" y="506.05" font-size="50.3" fill="#262626" stroke="#262626" stroke-width="1.2" letter-spacing="-0.45" xml:space="preserve">2</text>
<text x="142.63" y="402.59" font-size="50.3" fill="#262626" stroke="#262626" stroke-width="1.2" letter-spacing="-0.45" xml:space="preserve">4</text>
<text x="142.63" y="299.14" font-size="50.3" fill="#262626" stroke="#262626" stroke-width="1.2" letter-spacing="-0.45" xml:space="preserve">6</text>
<text x="142.63" y="195.68" font-size="50.3" fill="#262626" stroke="#262626" stroke-width="1.2" letter-spacing="-0.45" xml:space="preserve">8</text>
<clipPath id="nofoot3"><path clip-rule="evenodd" d="M95.10,21.81H230.60V117.38H95.10ZM118.85,86.67H128.86V95.43H118.85ZM135.31,86.67H144.93V95.43H135.31Z"/></clipPath><text x="115.10" y="92.23" font-size="50.3" fill="#262626" stroke="#262626" stroke-width="1.2" letter-spacing="-0.45" xml:space="preserve" dx="2.11 -2.11" clip-path="url(#nofoot3)">10</text>
</g>
<text x="1036.5" y="728.7" text-anchor="middle" font-size="55" fill="#262626" stroke="#262626" stroke-width="1.4">Voltage (V)</text>
<text transform="translate(87.7,305.4) rotate(-90)" text-anchor="middle" font-size="55" fill="#262626" stroke="#262626" stroke-width="1.4">Current (A)</text>
<text x="63.3" y="735.0" font-size="99" fill="#262626" stroke="#262626" stroke-width="0.4">(a)</text>
<clipPath id="nofoot4"><path clip-rule="evenodd" d="M273.10,7.30H529.31V106.10H273.10ZM297.24,74.52H307.46V83.10H297.24ZM313.86,74.52H323.66V83.10H313.86Z"/></clipPath><text x="293.10" y="80.10" font-size="52" fill="#ff0000" stroke="#ff0000" stroke-width="1.0" xml:space="preserve" dx="2.18 -2.18" clip-path="url(#nofoot4)">1 kW/m<tspan font-size="44" dx="1.6" dy="-23.0">2</tspan></text>
<text x="293.10" y="181.30" font-size="52" fill="#000" stroke="#000" stroke-width="1.0" xml:space="preserve">0.8 kW/m<tspan font-size="44" dx="1.6" dy="-23.0">2</tspan></text>
<text x="293.10" y="286.50" font-size="52" fill="#000" stroke="#000" stroke-width="1.0" xml:space="preserve">0.6 kW/m<tspan font-size="44" dx="1.6" dy="-23.0">2</tspan></text>
<text x="293.10" y="438.10" font-size="52" fill="#000" stroke="#000" stroke-width="1.0" xml:space="preserve">0.3 kW/m<tspan font-size="44" dx="1.6" dy="-23.0">2</tspan></text>
<clipPath id="nofoot5"><path clip-rule="evenodd" d="M273.10,467.20H572.68V566.00H273.10ZM340.61,534.42H350.83V543.00H340.61ZM357.22,534.42H367.03V543.00H357.22Z"/></clipPath><text x="293.10" y="540.00" font-size="52" fill="#000" stroke="#000" stroke-width="1.0" xml:space="preserve" dx="0.00 0.00 2.18 -2.18" clip-path="url(#nofoot5)">0.1 kW/m<tspan font-size="44" dx="1.6" dy="-23.0">2</tspan></text>
</g>
<g id="plot-b">
<g stroke="#262626" stroke-width="4.0" fill="none" stroke-linecap="butt" shape-rendering="crispEdges">
<path d="M192.0,1349.0V783.2H1882.0V1349.0"/>
<path d="M190.0,1347.5H1884.0" stroke-width="3"/>
<path d="M361.0,1347.5 v-19.0 M361.0,783.2 v19.0 M530.0,1347.5 v-19.0 M530.0,783.2 v19.0 M699.0,1347.5 v-19.0 M699.0,783.2 v19.0 M868.0,1347.5 v-19.0 M868.0,783.2 v19.0 M1037.0,1347.5 v-19.0 M1037.0,783.2 v19.0 M1206.0,1347.5 v-19.0 M1206.0,783.2 v19.0 M1375.0,1347.5 v-19.0 M1375.0,783.2 v19.0 M1544.0,1347.5 v-19.0 M1544.0,783.2 v19.0 M1713.0,1347.5 v-19.0 M1713.0,783.2 v19.0 "/>
<path d="M192.0,834.5 h19.0 M1882.0,834.5 h-19.0" stroke-width="3"/>
<path d="M192.0,962.5 h19.0 M1882.0,962.5 h-19.0" stroke-width="3"/>
<path d="M192.0,1091 h19.0 M1882.0,1091 h-19.0" stroke-width="4"/>
<path d="M192.0,1219.5 h19.0 M1882.0,1219.5 h-19.0" stroke-width="3"/>
</g>
<path d="M192.0,1347.5 L195.4,1346.2 L198.8,1345.0 L202.1,1343.7 L205.5,1342.4 L208.9,1341.1 L212.3,1339.9 L215.7,1338.6 L219.0,1337.3 L222.4,1336.1 L225.8,1334.8 L229.2,1333.5 L232.6,1332.3 L235.9,1331.0 L239.3,1329.7 L242.7,1328.4 L246.1,1327.2 L249.5,1325.9 L252.8,1324.6 L256.2,1323.4 L259.6,1322.1 L263.0,1320.8 L266.4,1319.6 L269.7,1318.3 L273.1,1317.0 L276.5,1315.7 L279.9,1314.5 L283.3,1313.2 L286.6,1311.9 L290.0,1310.7 L293.4,1309.4 L296.8,1308.1 L300.2,1306.9 L303.5,1305.6 L306.9,1304.3 L310.3,1303.1 L313.7,1301.8 L317.1,1300.5 L320.4,1299.2 L323.8,1298.0 L327.2,1296.7 L330.6,1295.4 L334.0,1294.2 L337.3,1292.9 L340.7,1291.6 L344.1,1290.4 L347.5,1289.1 L350.9,1287.8 L354.2,1286.6 L357.6,1285.3 L361.0,1284.0 L364.4,1282.8 L367.8,1281.5 L371.1,1280.2 L374.5,1278.9 L377.9,1277.7 L381.3,1276.4 L384.7,1275.1 L388.0,1273.9 L391.4,1272.6 L394.8,1271.3 L398.2,1270.1 L401.6,1268.8 L404.9,1267.5 L408.3,1266.3 L411.7,1265.0 L415.1,1263.7 L418.5,1262.5 L421.8,1261.2 L425.2,1259.9 L428.6,1258.7 L432.0,1257.4 L435.4,1256.1 L438.7,1254.9 L442.1,1253.6 L445.5,1252.3 L448.9,1251.1 L452.3,1249.8 L455.6,1248.5 L459.0,1247.2 L462.4,1246.0 L465.8,1244.7 L469.2,1243.4 L472.5,1242.2 L475.9,1240.9 L479.3,1239.6 L482.7,1238.4 L486.1,1237.1 L489.4,1235.8 L492.8,1234.6 L496.2,1233.3 L499.6,1232.0 L503.0,1230.8 L506.3,1229.5 L509.7,1228.2 L513.1,1227.0 L516.5,1225.7 L519.9,1224.4 L523.2,1223.2 L526.6,1221.9 L530.0,1220.6 L533.4,1219.4 L536.8,1218.1 L540.1,1216.8 L543.5,1215.6 L546.9,1214.3 L550.3,1213.0 L553.7,1211.8 L557.0,1210.5 L560.4,1209.3 L563.8,1208.0 L567.2,1206.7 L570.6,1205.5 L573.9,1204.2 L577.3,1202.9 L580.7,1201.7 L584.1,1200.4 L587.5,1199.1 L590.8,1197.9 L594.2,1196.6 L597.6,1195.3 L601.0,1194.1 L604.4,1192.8 L607.7,1191.5 L611.1,1190.3 L614.5,1189.0 L617.9,1187.7 L621.3,1186.5 L624.6,1185.2 L628.0,1183.9 L631.4,1182.7 L634.8,1181.4 L638.2,1180.1 L641.5,1178.9 L644.9,1177.6 L648.3,1176.3 L651.7,1175.1 L655.1,1173.8 L658.4,1172.6 L661.8,1171.3 L665.2,1170.0 L668.6,1168.8 L672.0,1167.5 L675.3,1166.2 L678.7,1165.0 L682.1,1163.7 L685.5,1162.4 L688.9,1161.2 L692.2,1159.9 L695.6,1158.6 L699.0,1157.4 L702.4,1156.1 L705.8,1154.9 L709.1,1153.6 L712.5,1152.3 L715.9,1151.1 L719.3,1149.8 L722.7,1148.5 L726.0,1147.3 L729.4,1146.0 L732.8,1144.7 L736.2,1143.5 L739.6,1142.2 L742.9,1140.9 L746.3,1139.7 L749.7,1138.4 L753.1,1137.2 L756.5,1135.9 L759.8,1134.6 L763.2,1133.4 L766.6,1132.1 L770.0,1130.8 L773.4,1129.6 L776.7,1128.3 L780.1,1127.0 L783.5,1125.8 L786.9,1124.5 L790.3,1123.3 L793.6,1122.0 L797.0,1120.7 L800.4,1119.5 L803.8,1118.2 L807.2,1116.9 L810.5,1115.7 L813.9,1114.4 L817.3,1113.2 L820.7,1111.9 L824.1,1110.6 L827.4,1109.4 L830.8,1108.1 L834.2,1106.8 L837.6,1105.6 L841.0,1104.3 L844.3,1103.1 L847.7,1101.8 L851.1,1100.5 L854.5,1099.3 L857.9,1098.0 L861.2,1096.7 L864.6,1095.5 L868.0,1094.2 L871.4,1093.0 L874.8,1091.7 L878.1,1090.4 L881.5,1089.2 L884.9,1087.9 L888.3,1086.6 L891.7,1085.4 L895.0,1084.1 L898.4,1082.9 L901.8,1081.6 L905.2,1080.3 L908.6,1079.1 L911.9,1077.8 L915.3,1076.6 L918.7,1075.3 L922.1,1074.0 L925.5,1072.8 L928.8,1071.5 L932.2,1070.2 L935.6,1069.0 L939.0,1067.7 L942.4,1066.5 L945.7,1065.2 L949.1,1063.9 L952.5,1062.7 L955.9,1061.4 L959.3,1060.2 L962.6,1058.9 L966.0,1057.6 L969.4,1056.4 L972.8,1055.1 L976.2,1053.9 L979.5,1052.6 L982.9,1051.3 L986.3,1050.1 L989.7,1048.8 L993.1,1047.6 L996.4,1046.3 L999.8,1045.0 L1003.2,1043.8 L1006.6,1042.5 L1010.0,1041.2 L1013.3,1040.0 L1016.7,1038.7 L1020.1,1037.5 L1023.5,1036.2 L1026.9,1034.9 L1030.2,1033.7 L1033.6,1032.4 L1037.0,1031.2 L1040.4,1029.9 L1043.8,1028.6 L1047.1,1027.4 L1050.5,1026.1 L1053.9,1024.9 L1057.3,1023.6 L1060.7,1022.3 L1064.0,1021.1 L1067.4,1019.8 L1070.8,1018.6 L1074.2,1017.3 L1077.6,1016.1 L1080.9,1014.8 L1084.3,1013.5 L1087.7,1012.3 L1091.1,1011.0 L1094.5,1009.8 L1097.8,1008.5 L1101.2,1007.2 L1104.6,1006.0 L1108.0,1004.7 L1111.4,1003.5 L1114.7,1002.2 L1118.1,1000.9 L1121.5,999.7 L1124.9,998.4 L1128.3,997.2 L1131.6,995.9 L1135.0,994.6 L1138.4,993.4 L1141.8,992.1 L1145.2,990.9 L1148.5,989.6 L1151.9,988.4 L1155.3,987.1 L1158.7,985.8 L1162.1,984.6 L1165.4,983.3 L1168.8,982.1 L1172.2,980.8 L1175.6,979.5 L1179.0,978.3 L1182.3,977.0 L1185.7,975.8 L1189.1,974.5 L1192.5,973.3 L1195.9,972.0 L1199.2,970.7 L1202.6,969.5 L1206.0,968.2 L1209.4,967.0 L1212.8,965.7 L1216.1,964.5 L1219.5,963.2 L1222.9,961.9 L1226.3,960.7 L1229.7,959.4 L1233.0,958.2 L1236.4,956.9 L1239.8,955.7 L1243.2,954.4 L1246.6,953.2 L1249.9,951.9 L1253.3,950.7 L1256.7,949.4 L1260.1,948.1 L1263.5,946.9 L1266.8,945.6 L1270.2,944.4 L1273.6,943.1 L1277.0,941.9 L1280.4,940.6 L1283.7,939.4 L1287.1,938.1 L1290.5,936.9 L1293.9,935.6 L1297.3,934.4 L1300.6,933.1 L1304.0,931.9 L1307.4,930.6 L1310.8,929.4 L1314.2,928.2 L1317.5,926.9 L1320.9,925.7 L1324.3,924.4 L1327.7,923.2 L1331.1,922.0 L1334.4,920.7 L1337.8,919.5 L1341.2,918.3 L1344.6,917.0 L1348.0,915.8 L1351.3,914.6 L1354.7,913.4 L1358.1,912.2 L1361.5,911.0 L1364.9,909.7 L1368.2,908.5 L1371.6,907.3 L1375.0,906.2 L1378.4,905.0 L1381.8,903.8 L1385.1,902.6 L1388.5,901.5 L1391.9,900.3 L1395.3,899.2 L1398.7,898.0 L1402.0,896.9 L1405.4,895.8 L1408.8,894.7 L1412.2,893.6 L1415.6,892.5 L1418.9,891.4 L1422.3,890.4 L1425.7,889.4 L1429.1,888.4 L1432.5,887.4 L1435.8,886.4 L1439.2,885.5 L1442.6,884.6 L1446.0,883.7 L1449.4,882.9 L1452.7,882.1 L1456.1,881.4 L1459.5,880.6 L1462.9,880.0 L1466.3,879.3 L1469.6,878.8 L1473.0,878.3 L1476.4,877.8 L1479.8,877.4 L1483.2,877.1 L1486.5,876.9 L1489.9,876.7 L1493.3,876.7 L1496.7,876.7 L1500.1,876.8 L1503.4,877.0 L1506.8,877.4 L1510.2,877.9 L1513.6,878.5 L1517.0,879.2 L1520.3,880.1 L1523.7,881.1 L1527.1,882.3 L1530.5,883.6 L1533.9,885.1 L1537.2,886.8 L1540.6,888.7 L1544.0,890.8 L1547.4,893.1 L1550.8,895.6 L1554.1,898.3 L1557.5,901.2 L1560.9,904.4 L1564.3,907.8 L1567.7,911.4 L1571.0,915.3 L1574.4,919.4 L1577.8,923.8 L1581.2,928.4 L1584.6,933.3 L1587.9,938.5 L1591.3,943.9 L1594.7,949.6 L1598.1,955.6 L1601.5,961.8 L1604.8,968.3 L1608.2,975.0 L1611.6,982.1 L1615.0,989.3 L1618.4,996.9 L1621.7,1004.7 L1625.1,1012.8 L1628.5,1021.1 L1631.9,1029.6 L1635.3,1038.5 L1638.6,1047.5 L1642.0,1056.9 L1645.4,1066.4 L1648.8,1076.2 L1652.2,1086.2 L1655.5,1096.5 L1658.9,1107.0 L1662.3,1117.7 L1665.7,1128.7 L1669.1,1139.8 L1672.4,1151.2 L1675.8,1162.8 L1679.2,1174.6 L1682.6,1186.6 L1686.0,1198.8 L1689.3,1211.2 L1692.7,1223.8 L1696.1,1236.6 L1699.5,1249.6 L1702.9,1262.8 L1706.2,1276.2 L1709.6,1289.7 L1713.0,1303.4 L1716.4,1317.4 L1719.8,1331.4" fill="none" stroke="#ff0000" stroke-width="12.5" stroke-linejoin="round" shape-rendering="crispEdges"/>
<circle cx="1494.8" cy="876.6" r="15.7" fill="none" stroke="#ff0000" stroke-width="11.6" shape-rendering="crispEdges"/>
<circle cx="1723.1" cy="1347.5" r="15.5" fill="none" stroke="#ff0000" stroke-width="10.8" shape-rendering="crispEdges"/>
<path d="M192.0,1347.5 L195.4,1346.5 L198.8,1345.5 L202.1,1344.5 L205.5,1343.4 L208.9,1342.4 L212.3,1341.4 L215.7,1340.4 L219.0,1339.4 L222.4,1338.4 L225.8,1337.3 L229.2,1336.3 L232.6,1335.3 L235.9,1334.3 L239.3,1333.3 L242.7,1332.3 L246.1,1331.2 L249.5,1330.2 L252.8,1329.2 L256.2,1328.2 L259.6,1327.2 L263.0,1326.2 L266.4,1325.1 L269.7,1324.1 L273.1,1323.1 L276.5,1322.1 L279.9,1321.1 L283.3,1320.1 L286.6,1319.0 L290.0,1318.0 L293.4,1317.0 L296.8,1316.0 L300.2,1315.0 L303.5,1314.0 L306.9,1313.0 L310.3,1311.9 L313.7,1310.9 L317.1,1309.9 L320.4,1308.9 L323.8,1307.9 L327.2,1306.9 L330.6,1305.8 L334.0,1304.8 L337.3,1303.8 L340.7,1302.8 L344.1,1301.8 L347.5,1300.8 L350.9,1299.8 L354.2,1298.7 L357.6,1297.7 L361.0,1296.7 L364.4,1295.7 L367.8,1294.7 L371.1,1293.7 L374.5,1292.7 L377.9,1291.6 L381.3,1290.6 L384.7,1289.6 L388.0,1288.6 L391.4,1287.6 L394.8,1286.6 L398.2,1285.5 L401.6,1284.5 L404.9,1283.5 L408.3,1282.5 L411.7,1281.5 L415.1,1280.5 L418.5,1279.5 L421.8,1278.4 L425.2,1277.4 L428.6,1276.4 L432.0,1275.4 L435.4,1274.4 L438.7,1273.4 L442.1,1272.4 L445.5,1271.3 L448.9,1270.3 L452.3,1269.3 L455.6,1268.3 L459.0,1267.3 L462.4,1266.3 L465.8,1265.3 L469.2,1264.3 L472.5,1263.2 L475.9,1262.2 L479.3,1261.2 L482.7,1260.2 L486.1,1259.2 L489.4,1258.2 L492.8,1257.2 L496.2,1256.1 L499.6,1255.1 L503.0,1254.1 L506.3,1253.1 L509.7,1252.1 L513.1,1251.1 L516.5,1250.1 L519.9,1249.0 L523.2,1248.0 L526.6,1247.0 L530.0,1246.0 L533.4,1245.0 L536.8,1244.0 L540.1,1243.0 L543.5,1242.0 L546.9,1240.9 L550.3,1239.9 L553.7,1238.9 L557.0,1237.9 L560.4,1236.9 L563.8,1235.9 L567.2,1234.9 L570.6,1233.9 L573.9,1232.8 L577.3,1231.8 L580.7,1230.8 L584.1,1229.8 L587.5,1228.8 L590.8,1227.8 L594.2,1226.8 L597.6,1225.7 L601.0,1224.7 L604.4,1223.7 L607.7,1222.7 L611.1,1221.7 L614.5,1220.7 L617.9,1219.7 L621.3,1218.7 L624.6,1217.7 L628.0,1216.6 L631.4,1215.6 L634.8,1214.6 L638.2,1213.6 L641.5,1212.6 L644.9,1211.6 L648.3,1210.6 L651.7,1209.6 L655.1,1208.5 L658.4,1207.5 L661.8,1206.5 L665.2,1205.5 L668.6,1204.5 L672.0,1203.5 L675.3,1202.5 L678.7,1201.5 L682.1,1200.4 L685.5,1199.4 L688.9,1198.4 L692.2,1197.4 L695.6,1196.4 L699.0,1195.4 L702.4,1194.4 L705.8,1193.4 L709.1,1192.4 L712.5,1191.3 L715.9,1190.3 L719.3,1189.3 L722.7,1188.3 L726.0,1187.3 L729.4,1186.3 L732.8,1185.3 L736.2,1184.3 L739.6,1183.3 L742.9,1182.2 L746.3,1181.2 L749.7,1180.2 L753.1,1179.2 L756.5,1178.2 L759.8,1177.2 L763.2,1176.2 L766.6,1175.2 L770.0,1174.2 L773.4,1173.1 L776.7,1172.1 L780.1,1171.1 L783.5,1170.1 L786.9,1169.1 L790.3,1168.1 L793.6,1167.1 L797.0,1166.1 L800.4,1165.1 L803.8,1164.0 L807.2,1163.0 L810.5,1162.0 L813.9,1161.0 L817.3,1160.0 L820.7,1159.0 L824.1,1158.0 L827.4,1157.0 L830.8,1156.0 L834.2,1155.0 L837.6,1153.9 L841.0,1152.9 L844.3,1151.9 L847.7,1150.9 L851.1,1149.9 L854.5,1148.9 L857.9,1147.9 L861.2,1146.9 L864.6,1145.9 L868.0,1144.9 L871.4,1143.8 L874.8,1142.8 L878.1,1141.8 L881.5,1140.8 L884.9,1139.8 L888.3,1138.8 L891.7,1137.8 L895.0,1136.8 L898.4,1135.8 L901.8,1134.8 L905.2,1133.8 L908.6,1132.7 L911.9,1131.7 L915.3,1130.7 L918.7,1129.7 L922.1,1128.7 L925.5,1127.7 L928.8,1126.7 L932.2,1125.7 L935.6,1124.7 L939.0,1123.7 L942.4,1122.6 L945.7,1121.6 L949.1,1120.6 L952.5,1119.6 L955.9,1118.6 L959.3,1117.6 L962.6,1116.6 L966.0,1115.6 L969.4,1114.6 L972.8,1113.6 L976.2,1112.6 L979.5,1111.6 L982.9,1110.5 L986.3,1109.5 L989.7,1108.5 L993.1,1107.5 L996.4,1106.5 L999.8,1105.5 L1003.2,1104.5 L1006.6,1103.5 L1010.0,1102.5 L1013.3,1101.5 L1016.7,1100.5 L1020.1,1099.5 L1023.5,1098.4 L1026.9,1097.4 L1030.2,1096.4 L1033.6,1095.4 L1037.0,1094.4 L1040.4,1093.4 L1043.8,1092.4 L1047.1,1091.4 L1050.5,1090.4 L1053.9,1089.4 L1057.3,1088.4 L1060.7,1087.4 L1064.0,1086.3 L1067.4,1085.3 L1070.8,1084.3 L1074.2,1083.3 L1077.6,1082.3 L1080.9,1081.3 L1084.3,1080.3 L1087.7,1079.3 L1091.1,1078.3 L1094.5,1077.3 L1097.8,1076.3 L1101.2,1075.3 L1104.6,1074.3 L1108.0,1073.2 L1111.4,1072.2 L1114.7,1071.2 L1118.1,1070.2 L1121.5,1069.2 L1124.9,1068.2 L1128.3,1067.2 L1131.6,1066.2 L1135.0,1065.2 L1138.4,1064.2 L1141.8,1063.2 L1145.2,1062.2 L1148.5,1061.2 L1151.9,1060.2 L1155.3,1059.2 L1158.7,1058.1 L1162.1,1057.1 L1165.4,1056.1 L1168.8,1055.1 L1172.2,1054.1 L1175.6,1053.1 L1179.0,1052.1 L1182.3,1051.1 L1185.7,1050.1 L1189.1,1049.1 L1192.5,1048.1 L1195.9,1047.1 L1199.2,1046.1 L1202.6,1045.1 L1206.0,1044.1 L1209.4,1043.0 L1212.8,1042.0 L1216.1,1041.0 L1219.5,1040.0 L1222.9,1039.0 L1226.3,1038.0 L1229.7,1037.0 L1233.0,1036.0 L1236.4,1035.0 L1239.8,1034.0 L1243.2,1033.0 L1246.6,1032.0 L1249.9,1031.0 L1253.3,1030.0 L1256.7,1029.0 L1260.1,1028.0 L1263.5,1027.0 L1266.8,1026.0 L1270.2,1025.0 L1273.6,1024.0 L1277.0,1023.0 L1280.4,1022.0 L1283.7,1021.0 L1287.1,1020.0 L1290.5,1019.0 L1293.9,1018.0 L1297.3,1017.0 L1300.6,1016.0 L1304.0,1015.0 L1307.4,1014.0 L1310.8,1013.0 L1314.2,1012.0 L1317.5,1011.0 L1320.9,1010.0 L1324.3,1009.0 L1327.7,1008.0 L1331.1,1007.0 L1334.4,1006.0 L1337.8,1005.0 L1341.2,1004.0 L1344.6,1003.0 L1348.0,1002.1 L1351.3,1001.1 L1354.7,1000.1 L1358.1,999.1 L1361.5,998.1 L1364.9,997.2 L1368.2,996.2 L1371.6,995.2 L1375.0,994.3 L1378.4,993.3 L1381.8,992.3 L1385.1,991.4 L1388.5,990.4 L1391.9,989.5 L1395.3,988.6 L1398.7,987.6 L1402.0,986.7 L1405.4,985.8 L1408.8,984.9 L1412.2,984.0 L1415.6,983.1 L1418.9,982.2 L1422.3,981.3 L1425.7,980.5 L1429.1,979.6 L1432.5,978.8 L1435.8,978.0 L1439.2,977.2 L1442.6,976.4 L1446.0,975.7 L1449.4,974.9 L1452.7,974.2 L1456.1,973.5 L1459.5,972.9 L1462.9,972.2 L1466.3,971.6 L1469.6,971.1 L1473.0,970.5 L1476.4,970.1 L1479.8,969.6 L1483.2,969.2 L1486.5,968.9 L1489.9,968.6 L1493.3,968.4 L1496.7,968.2 L1500.1,968.1 L1503.4,968.1 L1506.8,968.2 L1510.2,968.3 L1513.6,968.5 L1517.0,968.9 L1520.3,969.3 L1523.7,969.9 L1527.1,970.5 L1530.5,971.3 L1533.9,972.3 L1537.2,973.3 L1540.6,974.5 L1544.0,975.9 L1547.4,977.4 L1550.8,979.1 L1554.1,981.0 L1557.5,983.1 L1560.9,985.3 L1564.3,987.8 L1567.7,990.5 L1571.0,993.4 L1574.4,996.5 L1577.8,999.8 L1581.2,1003.4 L1584.6,1007.2 L1587.9,1011.2 L1591.3,1015.5 L1594.7,1020.1 L1598.1,1024.9 L1601.5,1030.0 L1604.8,1035.3 L1608.2,1040.9 L1611.6,1046.8 L1615.0,1053.0 L1618.4,1059.4 L1621.7,1066.1 L1625.1,1073.0 L1628.5,1080.2 L1631.9,1087.7 L1635.3,1095.5 L1638.6,1103.5 L1642.0,1111.8 L1645.4,1120.3 L1648.8,1129.1 L1652.2,1138.1 L1655.5,1147.4 L1658.9,1157.0 L1662.3,1166.8 L1665.7,1176.8 L1669.1,1187.1 L1672.4,1197.6 L1675.8,1208.4 L1679.2,1219.4 L1682.6,1230.6 L1686.0,1242.0 L1689.3,1253.7 L1692.7,1265.5 L1696.1,1277.6 L1699.5,1289.9 L1702.9,1302.4 L1706.2,1315.1 L1709.6,1328.0 L1713.0,1341.1 L1714.3,1346.0" fill="none" stroke="#0000ff" stroke-width="3.7" stroke-linejoin="round" shape-rendering="crispEdges"/>
<path d="M192.0,1347.5 L195.4,1346.7 L198.8,1346.0 L202.1,1345.2 L205.5,1344.4 L208.9,1343.7 L212.3,1342.9 L215.7,1342.2 L219.0,1341.4 L222.4,1340.6 L225.8,1339.9 L229.2,1339.1 L232.6,1338.4 L235.9,1337.6 L239.3,1336.8 L242.7,1336.1 L246.1,1335.3 L249.5,1334.5 L252.8,1333.8 L256.2,1333.0 L259.6,1332.3 L263.0,1331.5 L266.4,1330.7 L269.7,1330.0 L273.1,1329.2 L276.5,1328.4 L279.9,1327.7 L283.3,1326.9 L286.6,1326.2 L290.0,1325.4 L293.4,1324.6 L296.8,1323.9 L300.2,1323.1 L303.5,1322.3 L306.9,1321.6 L310.3,1320.8 L313.7,1320.1 L317.1,1319.3 L320.4,1318.5 L323.8,1317.8 L327.2,1317.0 L330.6,1316.3 L334.0,1315.5 L337.3,1314.7 L340.7,1314.0 L344.1,1313.2 L347.5,1312.4 L350.9,1311.7 L354.2,1310.9 L357.6,1310.2 L361.0,1309.4 L364.4,1308.6 L367.8,1307.9 L371.1,1307.1 L374.5,1306.4 L377.9,1305.6 L381.3,1304.8 L384.7,1304.1 L388.0,1303.3 L391.4,1302.6 L394.8,1301.8 L398.2,1301.0 L401.6,1300.3 L404.9,1299.5 L408.3,1298.7 L411.7,1298.0 L415.1,1297.2 L418.5,1296.5 L421.8,1295.7 L425.2,1294.9 L428.6,1294.2 L432.0,1293.4 L435.4,1292.7 L438.7,1291.9 L442.1,1291.1 L445.5,1290.4 L448.9,1289.6 L452.3,1288.9 L455.6,1288.1 L459.0,1287.3 L462.4,1286.6 L465.8,1285.8 L469.2,1285.1 L472.5,1284.3 L475.9,1283.5 L479.3,1282.8 L482.7,1282.0 L486.1,1281.3 L489.4,1280.5 L492.8,1279.7 L496.2,1279.0 L499.6,1278.2 L503.0,1277.5 L506.3,1276.7 L509.7,1275.9 L513.1,1275.2 L516.5,1274.4 L519.9,1273.7 L523.2,1272.9 L526.6,1272.1 L530.0,1271.4 L533.4,1270.6 L536.8,1269.9 L540.1,1269.1 L543.5,1268.3 L546.9,1267.6 L550.3,1266.8 L553.7,1266.1 L557.0,1265.3 L560.4,1264.5 L563.8,1263.8 L567.2,1263.0 L570.6,1262.3 L573.9,1261.5 L577.3,1260.7 L580.7,1260.0 L584.1,1259.2 L587.5,1258.5 L590.8,1257.7 L594.2,1256.9 L597.6,1256.2 L601.0,1255.4 L604.4,1254.7 L607.7,1253.9 L611.1,1253.1 L614.5,1252.4 L617.9,1251.6 L621.3,1250.9 L624.6,1250.1 L628.0,1249.3 L631.4,1248.6 L634.8,1247.8 L638.2,1247.1 L641.5,1246.3 L644.9,1245.5 L648.3,1244.8 L651.7,1244.0 L655.1,1243.3 L658.4,1242.5 L661.8,1241.8 L665.2,1241.0 L668.6,1240.2 L672.0,1239.5 L675.3,1238.7 L678.7,1238.0 L682.1,1237.2 L685.5,1236.4 L688.9,1235.7 L692.2,1234.9 L695.6,1234.2 L699.0,1233.4 L702.4,1232.6 L705.8,1231.9 L709.1,1231.1 L712.5,1230.4 L715.9,1229.6 L719.3,1228.9 L722.7,1228.1 L726.0,1227.3 L729.4,1226.6 L732.8,1225.8 L736.2,1225.1 L739.6,1224.3 L742.9,1223.5 L746.3,1222.8 L749.7,1222.0 L753.1,1221.3 L756.5,1220.5 L759.8,1219.8 L763.2,1219.0 L766.6,1218.2 L770.0,1217.5 L773.4,1216.7 L776.7,1216.0 L780.1,1215.2 L783.5,1214.4 L786.9,1213.7 L790.3,1212.9 L793.6,1212.2 L797.0,1211.4 L800.4,1210.7 L803.8,1209.9 L807.2,1209.1 L810.5,1208.4 L813.9,1207.6 L817.3,1206.9 L820.7,1206.1 L824.1,1205.4 L827.4,1204.6 L830.8,1203.8 L834.2,1203.1 L837.6,1202.3 L841.0,1201.6 L844.3,1200.8 L847.7,1200.0 L851.1,1199.3 L854.5,1198.5 L857.9,1197.8 L861.2,1197.0 L864.6,1196.3 L868.0,1195.5 L871.4,1194.7 L874.8,1194.0 L878.1,1193.2 L881.5,1192.5 L884.9,1191.7 L888.3,1191.0 L891.7,1190.2 L895.0,1189.4 L898.4,1188.7 L901.8,1187.9 L905.2,1187.2 L908.6,1186.4 L911.9,1185.7 L915.3,1184.9 L918.7,1184.1 L922.1,1183.4 L925.5,1182.6 L928.8,1181.9 L932.2,1181.1 L935.6,1180.4 L939.0,1179.6 L942.4,1178.8 L945.7,1178.1 L949.1,1177.3 L952.5,1176.6 L955.9,1175.8 L959.3,1175.1 L962.6,1174.3 L966.0,1173.5 L969.4,1172.8 L972.8,1172.0 L976.2,1171.3 L979.5,1170.5 L982.9,1169.8 L986.3,1169.0 L989.7,1168.3 L993.1,1167.5 L996.4,1166.7 L999.8,1166.0 L1003.2,1165.2 L1006.6,1164.5 L1010.0,1163.7 L1013.3,1163.0 L1016.7,1162.2 L1020.1,1161.4 L1023.5,1160.7 L1026.9,1159.9 L1030.2,1159.2 L1033.6,1158.4 L1037.0,1157.7 L1040.4,1156.9 L1043.8,1156.2 L1047.1,1155.4 L1050.5,1154.6 L1053.9,1153.9 L1057.3,1153.1 L1060.7,1152.4 L1064.0,1151.6 L1067.4,1150.9 L1070.8,1150.1 L1074.2,1149.3 L1077.6,1148.6 L1080.9,1147.8 L1084.3,1147.1 L1087.7,1146.3 L1091.1,1145.6 L1094.5,1144.8 L1097.8,1144.1 L1101.2,1143.3 L1104.6,1142.5 L1108.0,1141.8 L1111.4,1141.0 L1114.7,1140.3 L1118.1,1139.5 L1121.5,1138.8 L1124.9,1138.0 L1128.3,1137.3 L1131.6,1136.5 L1135.0,1135.7 L1138.4,1135.0 L1141.8,1134.2 L1145.2,1133.5 L1148.5,1132.7 L1151.9,1132.0 L1155.3,1131.2 L1158.7,1130.5 L1162.1,1129.7 L1165.4,1129.0 L1168.8,1128.2 L1172.2,1127.4 L1175.6,1126.7 L1179.0,1125.9 L1182.3,1125.2 L1185.7,1124.4 L1189.1,1123.7 L1192.5,1122.9 L1195.9,1122.2 L1199.2,1121.4 L1202.6,1120.6 L1206.0,1119.9 L1209.4,1119.1 L1212.8,1118.4 L1216.1,1117.6 L1219.5,1116.9 L1222.9,1116.1 L1226.3,1115.4 L1229.7,1114.6 L1233.0,1113.9 L1236.4,1113.1 L1239.8,1112.4 L1243.2,1111.6 L1246.6,1110.8 L1249.9,1110.1 L1253.3,1109.3 L1256.7,1108.6 L1260.1,1107.8 L1263.5,1107.1 L1266.8,1106.3 L1270.2,1105.6 L1273.6,1104.8 L1277.0,1104.1 L1280.4,1103.3 L1283.7,1102.6 L1287.1,1101.8 L1290.5,1101.1 L1293.9,1100.3 L1297.3,1099.6 L1300.6,1098.8 L1304.0,1098.1 L1307.4,1097.3 L1310.8,1096.6 L1314.2,1095.8 L1317.5,1095.1 L1320.9,1094.3 L1324.3,1093.6 L1327.7,1092.8 L1331.1,1092.1 L1334.4,1091.3 L1337.8,1090.6 L1341.2,1089.8 L1344.6,1089.1 L1348.0,1088.4 L1351.3,1087.6 L1354.7,1086.9 L1358.1,1086.1 L1361.5,1085.4 L1364.9,1084.7 L1368.2,1083.9 L1371.6,1083.2 L1375.0,1082.5 L1378.4,1081.8 L1381.8,1081.0 L1385.1,1080.3 L1388.5,1079.6 L1391.9,1078.9 L1395.3,1078.2 L1398.7,1077.5 L1402.0,1076.8 L1405.4,1076.1 L1408.8,1075.4 L1412.2,1074.7 L1415.6,1074.0 L1418.9,1073.3 L1422.3,1072.7 L1425.7,1072.0 L1429.1,1071.3 L1432.5,1070.7 L1435.8,1070.1 L1439.2,1069.4 L1442.6,1068.8 L1446.0,1068.2 L1449.4,1067.6 L1452.7,1067.1 L1456.1,1066.5 L1459.5,1066.0 L1462.9,1065.5 L1466.3,1065.0 L1469.6,1064.5 L1473.0,1064.0 L1476.4,1063.6 L1479.8,1063.2 L1483.2,1062.9 L1486.5,1062.5 L1489.9,1062.3 L1493.3,1062.0 L1496.7,1061.8 L1500.1,1061.6 L1503.4,1061.5 L1506.8,1061.5 L1510.2,1061.5 L1513.6,1061.5 L1517.0,1061.7 L1520.3,1061.9 L1523.7,1062.1 L1527.1,1062.5 L1530.5,1062.9 L1533.9,1063.5 L1537.2,1064.1 L1540.6,1064.9 L1544.0,1065.8 L1547.4,1066.8 L1550.8,1067.9 L1554.1,1069.1 L1557.5,1070.6 L1560.9,1072.1 L1564.3,1073.8 L1567.7,1075.7 L1571.0,1077.8 L1574.4,1080.0 L1577.8,1082.5 L1581.2,1085.1 L1584.6,1087.9 L1587.9,1091.0 L1591.3,1094.3 L1594.7,1097.8 L1598.1,1101.5 L1601.5,1105.5 L1604.8,1109.7 L1608.2,1114.2 L1611.6,1118.9 L1615.0,1123.9 L1618.4,1129.2 L1621.7,1134.7 L1625.1,1140.5 L1628.5,1146.5 L1631.9,1152.9 L1635.3,1159.5 L1638.6,1166.3 L1642.0,1173.5 L1645.4,1180.9 L1648.8,1188.6 L1652.2,1196.5 L1655.5,1204.7 L1658.9,1213.2 L1662.3,1222.0 L1665.7,1231.0 L1669.1,1240.3 L1672.4,1249.8 L1675.8,1259.6 L1679.2,1269.6 L1682.6,1279.9 L1686.0,1290.4 L1689.3,1301.2 L1692.7,1312.2 L1696.1,1323.4 L1699.5,1334.9 L1701.0,1340.0" fill="none" stroke="#0000ff" stroke-width="3.7" stroke-linejoin="round" shape-rendering="crispEdges"/>
<path d="M192.0,1347.5 L195.4,1347.1 L198.8,1346.7 L202.1,1346.4 L205.5,1346.0 L208.9,1345.6 L212.3,1345.2 L215.7,1344.8 L219.0,1344.4 L222.4,1344.1 L225.8,1343.7 L229.2,1343.3 L232.6,1342.9 L235.9,1342.5 L239.3,1342.2 L242.7,1341.8 L246.1,1341.4 L249.5,1341.0 L252.8,1340.6 L256.2,1340.3 L259.6,1339.9 L263.0,1339.5 L266.4,1339.1 L269.7,1338.7 L273.1,1338.4 L276.5,1338.0 L279.9,1337.6 L283.3,1337.2 L286.6,1336.8 L290.0,1336.4 L293.4,1336.1 L296.8,1335.7 L300.2,1335.3 L303.5,1334.9 L306.9,1334.5 L310.3,1334.2 L313.7,1333.8 L317.1,1333.4 L320.4,1333.0 L323.8,1332.6 L327.2,1332.3 L330.6,1331.9 L334.0,1331.5 L337.3,1331.1 L340.7,1330.7 L344.1,1330.4 L347.5,1330.0 L350.9,1329.6 L354.2,1329.2 L357.6,1328.8 L361.0,1328.4 L364.4,1328.1 L367.8,1327.7 L371.1,1327.3 L374.5,1326.9 L377.9,1326.5 L381.3,1326.2 L384.7,1325.8 L388.0,1325.4 L391.4,1325.0 L394.8,1324.6 L398.2,1324.3 L401.6,1323.9 L404.9,1323.5 L408.3,1323.1 L411.7,1322.7 L415.1,1322.4 L418.5,1322.0 L421.8,1321.6 L425.2,1321.2 L428.6,1320.8 L432.0,1320.5 L435.4,1320.1 L438.7,1319.7 L442.1,1319.3 L445.5,1318.9 L448.9,1318.6 L452.3,1318.2 L455.6,1317.8 L459.0,1317.4 L462.4,1317.0 L465.8,1316.7 L469.2,1316.3 L472.5,1315.9 L475.9,1315.5 L479.3,1315.1 L482.7,1314.8 L486.1,1314.4 L489.4,1314.0 L492.8,1313.6 L496.2,1313.2 L499.6,1312.9 L503.0,1312.5 L506.3,1312.1 L509.7,1311.7 L513.1,1311.3 L516.5,1311.0 L519.9,1310.6 L523.2,1310.2 L526.6,1309.8 L530.0,1309.4 L533.4,1309.1 L536.8,1308.7 L540.1,1308.3 L543.5,1307.9 L546.9,1307.5 L550.3,1307.2 L553.7,1306.8 L557.0,1306.4 L560.4,1306.0 L563.8,1305.6 L567.2,1305.3 L570.6,1304.9 L573.9,1304.5 L577.3,1304.1 L580.7,1303.7 L584.1,1303.4 L587.5,1303.0 L590.8,1302.6 L594.2,1302.2 L597.6,1301.8 L601.0,1301.5 L604.4,1301.1 L607.7,1300.7 L611.1,1300.3 L614.5,1299.9 L617.9,1299.6 L621.3,1299.2 L624.6,1298.8 L628.0,1298.4 L631.4,1298.0 L634.8,1297.7 L638.2,1297.3 L641.5,1296.9 L644.9,1296.5 L648.3,1296.1 L651.7,1295.8 L655.1,1295.4 L658.4,1295.0 L661.8,1294.6 L665.2,1294.2 L668.6,1293.9 L672.0,1293.5 L675.3,1293.1 L678.7,1292.7 L682.1,1292.3 L685.5,1292.0 L688.9,1291.6 L692.2,1291.2 L695.6,1290.8 L699.0,1290.4 L702.4,1290.1 L705.8,1289.7 L709.1,1289.3 L712.5,1288.9 L715.9,1288.5 L719.3,1288.2 L722.7,1287.8 L726.0,1287.4 L729.4,1287.0 L732.8,1286.7 L736.2,1286.3 L739.6,1285.9 L742.9,1285.5 L746.3,1285.1 L749.7,1284.8 L753.1,1284.4 L756.5,1284.0 L759.8,1283.6 L763.2,1283.2 L766.6,1282.9 L770.0,1282.5 L773.4,1282.1 L776.7,1281.7 L780.1,1281.3 L783.5,1281.0 L786.9,1280.6 L790.3,1280.2 L793.6,1279.8 L797.0,1279.4 L800.4,1279.1 L803.8,1278.7 L807.2,1278.3 L810.5,1277.9 L813.9,1277.6 L817.3,1277.2 L820.7,1276.8 L824.1,1276.4 L827.4,1276.0 L830.8,1275.7 L834.2,1275.3 L837.6,1274.9 L841.0,1274.5 L844.3,1274.1 L847.7,1273.8 L851.1,1273.4 L854.5,1273.0 L857.9,1272.6 L861.2,1272.2 L864.6,1271.9 L868.0,1271.5 L871.4,1271.1 L874.8,1270.7 L878.1,1270.4 L881.5,1270.0 L884.9,1269.6 L888.3,1269.2 L891.7,1268.8 L895.0,1268.5 L898.4,1268.1 L901.8,1267.7 L905.2,1267.3 L908.6,1266.9 L911.9,1266.6 L915.3,1266.2 L918.7,1265.8 L922.1,1265.4 L925.5,1265.1 L928.8,1264.7 L932.2,1264.3 L935.6,1263.9 L939.0,1263.5 L942.4,1263.2 L945.7,1262.8 L949.1,1262.4 L952.5,1262.0 L955.9,1261.6 L959.3,1261.3 L962.6,1260.9 L966.0,1260.5 L969.4,1260.1 L972.8,1259.8 L976.2,1259.4 L979.5,1259.0 L982.9,1258.6 L986.3,1258.2 L989.7,1257.9 L993.1,1257.5 L996.4,1257.1 L999.8,1256.7 L1003.2,1256.4 L1006.6,1256.0 L1010.0,1255.6 L1013.3,1255.2 L1016.7,1254.8 L1020.1,1254.5 L1023.5,1254.1 L1026.9,1253.7 L1030.2,1253.3 L1033.6,1252.9 L1037.0,1252.6 L1040.4,1252.2 L1043.8,1251.8 L1047.1,1251.4 L1050.5,1251.1 L1053.9,1250.7 L1057.3,1250.3 L1060.7,1249.9 L1064.0,1249.5 L1067.4,1249.2 L1070.8,1248.8 L1074.2,1248.4 L1077.6,1248.0 L1080.9,1247.7 L1084.3,1247.3 L1087.7,1246.9 L1091.1,1246.5 L1094.5,1246.1 L1097.8,1245.8 L1101.2,1245.4 L1104.6,1245.0 L1108.0,1244.6 L1111.4,1244.3 L1114.7,1243.9 L1118.1,1243.5 L1121.5,1243.1 L1124.9,1242.7 L1128.3,1242.4 L1131.6,1242.0 L1135.0,1241.6 L1138.4,1241.2 L1141.8,1240.9 L1145.2,1240.5 L1148.5,1240.1 L1151.9,1239.7 L1155.3,1239.3 L1158.7,1239.0 L1162.1,1238.6 L1165.4,1238.2 L1168.8,1237.8 L1172.2,1237.5 L1175.6,1237.1 L1179.0,1236.7 L1182.3,1236.3 L1185.7,1235.9 L1189.1,1235.6 L1192.5,1235.2 L1195.9,1234.8 L1199.2,1234.4 L1202.6,1234.1 L1206.0,1233.7 L1209.4,1233.3 L1212.8,1232.9 L1216.1,1232.5 L1219.5,1232.2 L1222.9,1231.8 L1226.3,1231.4 L1229.7,1231.0 L1233.0,1230.7 L1236.4,1230.3 L1239.8,1229.9 L1243.2,1229.5 L1246.6,1229.2 L1249.9,1228.8 L1253.3,1228.4 L1256.7,1228.0 L1260.1,1227.6 L1263.5,1227.3 L1266.8,1226.9 L1270.2,1226.5 L1273.6,1226.1 L1277.0,1225.8 L1280.4,1225.4 L1283.7,1225.0 L1287.1,1224.6 L1290.5,1224.3 L1293.9,1223.9 L1297.3,1223.5 L1300.6,1223.1 L1304.0,1222.8 L1307.4,1222.4 L1310.8,1222.0 L1314.2,1221.6 L1317.5,1221.3 L1320.9,1220.9 L1324.3,1220.5 L1327.7,1220.1 L1331.1,1219.8 L1334.4,1219.4 L1337.8,1219.0 L1341.2,1218.7 L1344.6,1218.3 L1348.0,1217.9 L1351.3,1217.5 L1354.7,1217.2 L1358.1,1216.8 L1361.5,1216.4 L1364.9,1216.1 L1368.2,1215.7 L1371.6,1215.3 L1375.0,1215.0 L1378.4,1214.6 L1381.8,1214.2 L1385.1,1213.9 L1388.5,1213.5 L1391.9,1213.2 L1395.3,1212.8 L1398.7,1212.5 L1402.0,1212.1 L1405.4,1211.8 L1408.8,1211.4 L1412.2,1211.1 L1415.6,1210.7 L1418.9,1210.4 L1422.3,1210.0 L1425.7,1209.7 L1429.1,1209.4 L1432.5,1209.1 L1435.8,1208.8 L1439.2,1208.4 L1442.6,1208.1 L1446.0,1207.8 L1449.4,1207.5 L1452.7,1207.3 L1456.1,1207.0 L1459.5,1206.7 L1462.9,1206.5 L1466.3,1206.2 L1469.6,1206.0 L1473.0,1205.7 L1476.4,1205.5 L1479.8,1205.3 L1483.2,1205.2 L1486.5,1205.0 L1489.9,1204.9 L1493.3,1204.7 L1496.7,1204.6 L1500.1,1204.6 L1503.4,1204.5 L1506.8,1204.5 L1510.2,1204.5 L1513.6,1204.5 L1517.0,1204.6 L1520.3,1204.7 L1523.7,1204.9 L1527.1,1205.1 L1530.5,1205.4 L1533.9,1205.7 L1537.2,1206.0 L1540.6,1206.5 L1544.0,1207.0 L1547.4,1207.5 L1550.8,1208.2 L1554.1,1208.9 L1557.5,1209.7 L1560.9,1210.6 L1564.3,1211.7 L1567.7,1212.8 L1571.0,1214.0 L1574.4,1215.4 L1577.8,1216.9 L1581.2,1218.5 L1584.6,1220.2 L1587.9,1222.2 L1591.3,1224.2 L1594.7,1226.5 L1598.1,1228.9 L1601.5,1231.5 L1604.8,1234.3 L1608.2,1237.3 L1611.6,1240.5 L1615.0,1244.0 L1618.4,1247.6 L1621.7,1251.5 L1625.1,1255.6 L1628.5,1259.9 L1631.9,1264.5 L1635.3,1269.4 L1638.6,1274.5 L1642.0,1279.9 L1645.4,1285.5 L1648.8,1291.4 L1652.2,1297.6 L1655.5,1304.1 L1658.9,1310.8 L1662.3,1317.8 L1665.7,1325.1 L1669.1,1332.7 L1672.4,1340.5 L1674.0,1344.2" fill="none" stroke="#0000ff" stroke-width="3.7" stroke-linejoin="round" shape-rendering="crispEdges"/>
<path d="M192.0,1347.5 L195.4,1347.4 L198.8,1347.2 L202.1,1347.1 L205.5,1347.0 L208.9,1346.9 L212.3,1346.7 L215.7,1346.6 L219.0,1346.5 L222.4,1346.4 L225.8,1346.2 L229.2,1346.1 L232.6,1346.0 L235.9,1345.8 L239.3,1345.7 L242.7,1345.6 L246.1,1345.5 L249.5,1345.3 L252.8,1345.2 L256.2,1345.1 L259.6,1345.0 L263.0,1344.8 L266.4,1344.7 L269.7,1344.6 L273.1,1344.5 L276.5,1344.3 L279.9,1344.2 L283.3,1344.1 L286.6,1343.9 L290.0,1343.8 L293.4,1343.7 L296.8,1343.6 L300.2,1343.4 L303.5,1343.3 L306.9,1343.2 L310.3,1343.1 L313.7,1342.9 L317.1,1342.8 L320.4,1342.7 L323.8,1342.5 L327.2,1342.4 L330.6,1342.3 L334.0,1342.2 L337.3,1342.0 L340.7,1341.9 L344.1,1341.8 L347.5,1341.7 L350.9,1341.5 L354.2,1341.4 L357.6,1341.3 L361.0,1341.1 L364.4,1341.0 L367.8,1340.9 L371.1,1340.8 L374.5,1340.6 L377.9,1340.5 L381.3,1340.4 L384.7,1340.3 L388.0,1340.1 L391.4,1340.0 L394.8,1339.9 L398.2,1339.8 L401.6,1339.6 L404.9,1339.5 L408.3,1339.4 L411.7,1339.2 L415.1,1339.1 L418.5,1339.0 L421.8,1338.9 L425.2,1338.7 L428.6,1338.6 L432.0,1338.5 L435.4,1338.4 L438.7,1338.2 L442.1,1338.1 L445.5,1338.0 L448.9,1337.9 L452.3,1337.7 L455.6,1337.6 L459.0,1337.5 L462.4,1337.3 L465.8,1337.2 L469.2,1337.1 L472.5,1337.0 L475.9,1336.8 L479.3,1336.7 L482.7,1336.6 L486.1,1336.5 L489.4,1336.3 L492.8,1336.2 L496.2,1336.1 L499.6,1335.9 L503.0,1335.8 L506.3,1335.7 L509.7,1335.6 L513.1,1335.4 L516.5,1335.3 L519.9,1335.2 L523.2,1335.1 L526.6,1334.9 L530.0,1334.8 L533.4,1334.7 L536.8,1334.6 L540.1,1334.4 L543.5,1334.3 L546.9,1334.2 L550.3,1334.0 L553.7,1333.9 L557.0,1333.8 L560.4,1333.7 L563.8,1333.5 L567.2,1333.4 L570.6,1333.3 L573.9,1333.2 L577.3,1333.0 L580.7,1332.9 L584.1,1332.8 L587.5,1332.7 L590.8,1332.5 L594.2,1332.4 L597.6,1332.3 L601.0,1332.1 L604.4,1332.0 L607.7,1331.9 L611.1,1331.8 L614.5,1331.6 L617.9,1331.5 L621.3,1331.4 L624.6,1331.3 L628.0,1331.1 L631.4,1331.0 L634.8,1330.9 L638.2,1330.8 L641.5,1330.6 L644.9,1330.5 L648.3,1330.4 L651.7,1330.3 L655.1,1330.1 L658.4,1330.0 L661.8,1329.9 L665.2,1329.7 L668.6,1329.6 L672.0,1329.5 L675.3,1329.4 L678.7,1329.2 L682.1,1329.1 L685.5,1329.0 L688.9,1328.9 L692.2,1328.7 L695.6,1328.6 L699.0,1328.5 L702.4,1328.4 L705.8,1328.2 L709.1,1328.1 L712.5,1328.0 L715.9,1327.8 L719.3,1327.7 L722.7,1327.6 L726.0,1327.5 L729.4,1327.3 L732.8,1327.2 L736.2,1327.1 L739.6,1327.0 L742.9,1326.8 L746.3,1326.7 L749.7,1326.6 L753.1,1326.5 L756.5,1326.3 L759.8,1326.2 L763.2,1326.1 L766.6,1326.0 L770.0,1325.8 L773.4,1325.7 L776.7,1325.6 L780.1,1325.4 L783.5,1325.3 L786.9,1325.2 L790.3,1325.1 L793.6,1324.9 L797.0,1324.8 L800.4,1324.7 L803.8,1324.6 L807.2,1324.4 L810.5,1324.3 L813.9,1324.2 L817.3,1324.1 L820.7,1323.9 L824.1,1323.8 L827.4,1323.7 L830.8,1323.6 L834.2,1323.4 L837.6,1323.3 L841.0,1323.2 L844.3,1323.0 L847.7,1322.9 L851.1,1322.8 L854.5,1322.7 L857.9,1322.5 L861.2,1322.4 L864.6,1322.3 L868.0,1322.2 L871.4,1322.0 L874.8,1321.9 L878.1,1321.8 L881.5,1321.7 L884.9,1321.5 L888.3,1321.4 L891.7,1321.3 L895.0,1321.2 L898.4,1321.0 L901.8,1320.9 L905.2,1320.8 L908.6,1320.6 L911.9,1320.5 L915.3,1320.4 L918.7,1320.3 L922.1,1320.1 L925.5,1320.0 L928.8,1319.9 L932.2,1319.8 L935.6,1319.6 L939.0,1319.5 L942.4,1319.4 L945.7,1319.3 L949.1,1319.1 L952.5,1319.0 L955.9,1318.9 L959.3,1318.8 L962.6,1318.6 L966.0,1318.5 L969.4,1318.4 L972.8,1318.2 L976.2,1318.1 L979.5,1318.0 L982.9,1317.9 L986.3,1317.7 L989.7,1317.6 L993.1,1317.5 L996.4,1317.4 L999.8,1317.2 L1003.2,1317.1 L1006.6,1317.0 L1010.0,1316.9 L1013.3,1316.7 L1016.7,1316.6 L1020.1,1316.5 L1023.5,1316.4 L1026.9,1316.2 L1030.2,1316.1 L1033.6,1316.0 L1037.0,1315.9 L1040.4,1315.7 L1043.8,1315.6 L1047.1,1315.5 L1050.5,1315.3 L1053.9,1315.2 L1057.3,1315.1 L1060.7,1315.0 L1064.0,1314.8 L1067.4,1314.7 L1070.8,1314.6 L1074.2,1314.5 L1077.6,1314.3 L1080.9,1314.2 L1084.3,1314.1 L1087.7,1314.0 L1091.1,1313.8 L1094.5,1313.7 L1097.8,1313.6 L1101.2,1313.5 L1104.6,1313.3 L1108.0,1313.2 L1111.4,1313.1 L1114.7,1313.0 L1118.1,1312.8 L1121.5,1312.7 L1124.9,1312.6 L1128.3,1312.5 L1131.6,1312.3 L1135.0,1312.2 L1138.4,1312.1 L1141.8,1311.9 L1145.2,1311.8 L1148.5,1311.7 L1151.9,1311.6 L1155.3,1311.4 L1158.7,1311.3 L1162.1,1311.2 L1165.4,1311.1 L1168.8,1310.9 L1172.2,1310.8 L1175.6,1310.7 L1179.0,1310.6 L1182.3,1310.4 L1185.7,1310.3 L1189.1,1310.2 L1192.5,1310.1 L1195.9,1309.9 L1199.2,1309.8 L1202.6,1309.7 L1206.0,1309.6 L1209.4,1309.4 L1212.8,1309.3 L1216.1,1309.2 L1219.5,1309.1 L1222.9,1308.9 L1226.3,1308.8 L1229.7,1308.7 L1233.0,1308.6 L1236.4,1308.4 L1239.8,1308.3 L1243.2,1308.2 L1246.6,1308.0 L1249.9,1307.9 L1253.3,1307.8 L1256.7,1307.7 L1260.1,1307.5 L1263.5,1307.4 L1266.8,1307.3 L1270.2,1307.2 L1273.6,1307.0 L1277.0,1306.9 L1280.4,1306.8 L1283.7,1306.7 L1287.1,1306.5 L1290.5,1306.4 L1293.9,1306.3 L1297.3,1306.2 L1300.6,1306.0 L1304.0,1305.9 L1307.4,1305.8 L1310.8,1305.7 L1314.2,1305.6 L1317.5,1305.4 L1320.9,1305.3 L1324.3,1305.2 L1327.7,1305.1 L1331.1,1304.9 L1334.4,1304.8 L1337.8,1304.7 L1341.2,1304.6 L1344.6,1304.4 L1348.0,1304.3 L1351.3,1304.2 L1354.7,1304.1 L1358.1,1304.0 L1361.5,1303.8 L1364.9,1303.7 L1368.2,1303.6 L1371.6,1303.5 L1375.0,1303.4 L1378.4,1303.2 L1381.8,1303.1 L1385.1,1303.0 L1388.5,1302.9 L1391.9,1302.8 L1395.3,1302.7 L1398.7,1302.6 L1402.0,1302.5 L1405.4,1302.3 L1408.8,1302.2 L1412.2,1302.1 L1415.6,1302.0 L1418.9,1301.9 L1422.3,1301.8 L1425.7,1301.7 L1429.1,1301.6 L1432.5,1301.5 L1435.8,1301.5 L1439.2,1301.4 L1442.6,1301.3 L1446.0,1301.2 L1449.4,1301.1 L1452.7,1301.1 L1456.1,1301.0 L1459.5,1300.9 L1462.9,1300.9 L1466.3,1300.8 L1469.6,1300.8 L1473.0,1300.8 L1476.4,1300.8 L1479.8,1300.7 L1483.2,1300.7 L1486.5,1300.8 L1489.9,1300.8 L1493.3,1300.8 L1496.7,1300.9 L1500.1,1300.9 L1503.4,1301.0 L1506.8,1301.1 L1510.2,1301.2 L1513.6,1301.4 L1517.0,1301.5 L1520.3,1301.7 L1523.7,1301.9 L1527.1,1302.2 L1530.5,1302.5 L1533.9,1302.8 L1537.2,1303.1 L1540.6,1303.5 L1544.0,1304.0 L1547.4,1304.5 L1550.8,1305.0 L1554.1,1305.6 L1557.5,1306.2 L1560.9,1307.0 L1564.3,1307.8 L1567.7,1308.6 L1571.0,1309.6 L1574.4,1310.6 L1577.8,1311.7 L1581.2,1312.9 L1584.6,1314.3 L1587.9,1315.7 L1591.3,1317.3 L1594.7,1318.9 L1598.1,1320.8 L1601.5,1322.7 L1604.8,1324.8 L1608.2,1327.1 L1611.6,1329.5 L1615.0,1332.1 L1618.4,1334.9 L1621.7,1337.9 L1625.1,1341.1 L1628.5,1344.4 L1629.0,1345.0" fill="none" stroke="#0000ff" stroke-width="3.7" stroke-linejoin="round" shape-rendering="crispEdges"/>
<circle cx="1496.9" cy="968.4" r="15.5" fill="none" stroke="#ff00ff" stroke-width="3.2" shape-rendering="crispEdges"/>
<circle cx="1509.0" cy="1061.4" r="15.5" fill="none" stroke="#ff00ff" stroke-width="3.2" shape-rendering="crispEdges"/>
<circle cx="1509.0" cy="1204.7" r="15.5" fill="none" stroke="#ff00ff" stroke-width="3.2" shape-rendering="crispEdges"/>
<circle cx="1481.3" cy="1301.0" r="15.5" fill="none" stroke="#ff00ff" stroke-width="3.2" shape-rendering="crispEdges"/>
<circle cx="192.0" cy="1347.7" r="15.5" fill="none" stroke="#ff0000" stroke-width="10.8" shape-rendering="crispEdges"/>
<g>
<text x="176.01" y="1416.20" font-size="50.3" fill="#262626" stroke="#262626" stroke-width="1.2" letter-spacing="-0.45" xml:space="preserve">0</text>
<text x="345.01" y="1416.20" font-size="50.3" fill="#262626" stroke="#262626" stroke-width="1.2" letter-spacing="-0.45" xml:space="preserve">5</text>
<clipPath id="nofoot6"><path clip-rule="evenodd" d="M480.25,1345.78H615.75V1441.35H480.25ZM503.99,1410.64H514.01V1419.40H503.99ZM520.46,1410.64H530.08V1419.40H520.46Z"/></clipPath><text x="500.25" y="1416.20" font-size="50.3" fill="#262626" stroke="#262626" stroke-width="1.2" letter-spacing="-0.45" xml:space="preserve" dx="2.11 -2.11" clip-path="url(#nofoot6)">10</text>
<clipPath id="nofoot7"><path clip-rule="evenodd" d="M649.25,1345.78H784.75V1441.35H649.25ZM672.99,1410.64H683.01V1419.40H672.99ZM689.46,1410.64H699.08V1419.40H689.46Z"/></clipPath><text x="669.25" y="1416.20" font-size="50.3" fill="#262626" stroke="#262626" stroke-width="1.2" letter-spacing="-0.45" xml:space="preserve" dx="2.11 -2.11" clip-path="url(#nofoot7)">15</text>
<text x="838.25" y="1416.20" font-size="50.3" fill="#262626" stroke="#262626" stroke-width="1.2" letter-spacing="-0.45" xml:space="preserve">20</text>
<text x="1007.25" y="1416.20" font-size="50.3" fill="#262626" stroke="#262626" stroke-width="1.2" letter-spacing="-0.45" xml:space="preserve">25</text>
<text x="1176.25" y="1416.20" font-size="50.3" fill="#262626" stroke="#262626" stroke-width="1.2" letter-spacing="-0.45" xml:space="preserve">30</text>
<text x="1345.25" y="1416.20" font-size="50.3" fill="#262626" stroke="#262626" stroke-width="1.2" letter-spacing="-0.45" xml:space="preserve">35</text>
<text x="1514.25" y="1416.20" font-size="50.3" fill="#262626" stroke="#262626" stroke-width="1.2" letter-spacing="-0.45" xml:space="preserve">40</text>
<text x="1683.25" y="1416.20" font-size="50.3" fill="#262626" stroke="#262626" stroke-width="1.2" letter-spacing="-0.45" xml:space="preserve">45</text>
<text x="1852.25" y="1416.20" font-size="50.3" fill="#262626" stroke="#262626" stroke-width="1.2" letter-spacing="-0.45" xml:space="preserve">50</text>
<text x="142.63" y="1367.50" font-size="50.3" fill="#262626" stroke="#262626" stroke-width="1.2" letter-spacing="-0.45" xml:space="preserve">0</text>
<clipPath id="nofoot8"><path clip-rule="evenodd" d="M67.58,1168.83H230.60V1264.40H67.58ZM91.32,1233.69H101.34V1242.45H91.32ZM107.78,1233.69H117.41V1242.45H107.78Z"/></clipPath><text x="87.58" y="1239.25" font-size="50.3" fill="#262626" stroke="#262626" stroke-width="1.2" letter-spacing="-0.45" xml:space="preserve" dx="2.11 -2.11" clip-path="url(#nofoot8)">100</text>
<text x="87.58" y="1111.00" font-size="50.3" fill="#262626" stroke="#262626" stroke-width="1.2" letter-spacing="-0.45" xml:space="preserve">200</text>
<text x="87.58" y="982.75" font-size="50.3" fill="#262626" stroke="#262626" stroke-width="1.2" letter-spacing="-0.45" xml:space="preserve">300</text>
<text x="87.58" y="854.50" font-size="50.3" fill="#262626" stroke="#262626" stroke-width="1.2" letter-spacing="-0.45" xml:space="preserve">400</text>
</g>
<text x="1036.5" y="1485.7" text-anchor="middle" font-size="55" fill="#262626" stroke="#262626" stroke-width="1.4">Voltage (V)</text>
<text transform="translate(60.9,1064.5) rotate(-90)" text-anchor="middle" font-size="55" fill="#262626" stroke="#262626" stroke-width="1.4">Power (W)</text>
<text x="51.2" y="1509.5" font-size="99" fill="#262626" stroke="#262626" stroke-width="0.4">(b)</text>
<clipPath id="nofoot9"><path clip-rule="evenodd" d="M1499.90,831.00H1756.11V929.80H1499.90ZM1524.04,898.22H1534.26V906.80H1524.04ZM1540.66,898.22H1550.46V906.80H1540.66Z"/></clipPath><text x="1519.90" y="903.80" font-size="52" fill="#ff0000" stroke="#ff0000" stroke-width="1.0" xml:space="preserve" dx="2.18 -2.18" clip-path="url(#nofoot9)">1 kW/m<tspan font-size="44" dx="1.6" dy="-23.0">2</tspan></text>
<text x="1519.90" y="998.20" font-size="52" fill="#000" stroke="#000" stroke-width="1.0" xml:space="preserve">0.8 kW/m<tspan font-size="44" dx="1.6" dy="-23.0">2</tspan></text>
<text x="1519.90" y="1091.00" font-size="52" fill="#000" stroke="#000" stroke-width="1.0" xml:space="preserve">0.6 kW/m<tspan font-size="44" dx="1.6" dy="-23.0">2</tspan></text>
<text x="1519.90" y="1234.30" font-size="52" fill="#000" stroke="#000" stroke-width="1.0" xml:space="preserve">0.3 kW/m<tspan font-size="44" dx="1.6" dy="-23.0">2</tspan></text>
<clipPath id="nofoot10"><path clip-rule="evenodd" d="M1499.90,1255.50H1799.48V1354.30H1499.90ZM1567.41,1322.72H1577.63V1331.30H1567.41ZM1584.02,1322.72H1593.83V1331.30H1584.02Z"/></clipPath><text x="1519.90" y="1328.30" font-size="52" fill="#000" stroke="#000" stroke-width="1.0" xml:space="preserve" dx="0.00 0.00 2.18 -2.18" clip-path="url(#nofoot10)">0.1 kW/m<tspan font-size="44" dx="1.6" dy="-23.0">2</tspan></text>
</g>
</svg>
</body>
</html>
